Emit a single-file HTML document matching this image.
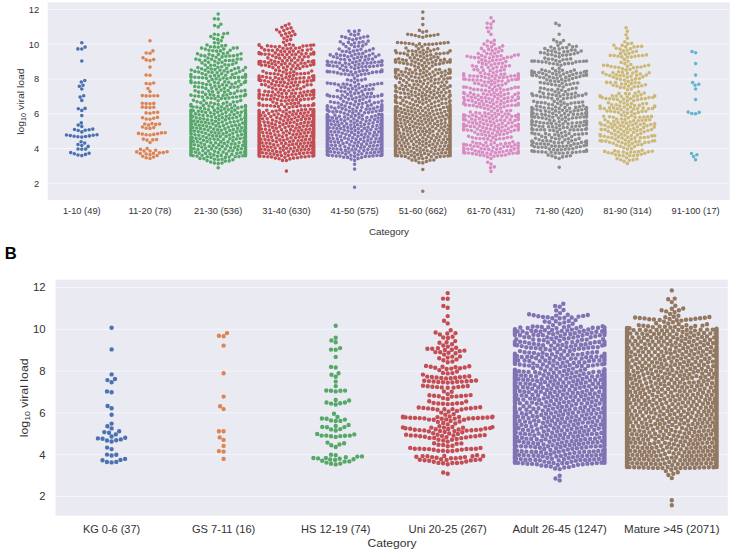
<!DOCTYPE html>
<html><head><meta charset="utf-8"><title>Swarm</title>
<style>html,body{margin:0;padding:0;background:#fff}svg{display:block}text{font-family:"Liberation Sans",sans-serif;fill:#333333}</style></head>
<body><svg width="734" height="555" viewBox="0 0 734 555">
<defs><filter id="sb" x="0" y="0" width="734" height="555" filterUnits="userSpaceOnUse"><feGaussianBlur stdDeviation="0.4"/></filter></defs>
<rect width="734" height="555" fill="#fff"/>
<rect x="47.7" y="2.5" width="682.0" height="197.4" fill="#eaeaf2"/>
<line x1="47.7" x2="729.7" y1="183.40" y2="183.40" stroke="#f5f5fc" stroke-width="1"/>
<line x1="47.7" x2="729.7" y1="148.62" y2="148.62" stroke="#f5f5fc" stroke-width="1"/>
<line x1="47.7" x2="729.7" y1="113.84" y2="113.84" stroke="#f5f5fc" stroke-width="1"/>
<line x1="47.7" x2="729.7" y1="79.06" y2="79.06" stroke="#f5f5fc" stroke-width="1"/>
<line x1="47.7" x2="729.7" y1="44.28" y2="44.28" stroke="#f5f5fc" stroke-width="1"/>
<line x1="47.7" x2="729.7" y1="9.50" y2="9.50" stroke="#f5f5fc" stroke-width="1"/>
<rect x="55.6" y="279.7" width="672.1999999999999" height="236.00000000000006" fill="#eaeaf2"/>
<line x1="55.6" x2="727.8" y1="496.50" y2="496.50" stroke="#f5f5fc" stroke-width="1"/>
<line x1="55.6" x2="727.8" y1="454.70" y2="454.70" stroke="#f5f5fc" stroke-width="1"/>
<line x1="55.6" x2="727.8" y1="412.90" y2="412.90" stroke="#f5f5fc" stroke-width="1"/>
<line x1="55.6" x2="727.8" y1="371.10" y2="371.10" stroke="#f5f5fc" stroke-width="1"/>
<line x1="55.6" x2="727.8" y1="329.30" y2="329.30" stroke="#f5f5fc" stroke-width="1"/>
<line x1="55.6" x2="727.8" y1="287.50" y2="287.50" stroke="#f5f5fc" stroke-width="1"/>
<text x="39.2" y="186.6" font-size="8.9" text-anchor="end" textLength="5.2" lengthAdjust="spacingAndGlyphs">2</text>
<text x="39.2" y="151.8" font-size="8.9" text-anchor="end" textLength="5.2" lengthAdjust="spacingAndGlyphs">4</text>
<text x="39.2" y="117.0" font-size="8.9" text-anchor="end" textLength="5.2" lengthAdjust="spacingAndGlyphs">6</text>
<text x="39.2" y="82.3" font-size="8.9" text-anchor="end" textLength="5.2" lengthAdjust="spacingAndGlyphs">8</text>
<text x="39.2" y="47.5" font-size="8.9" text-anchor="end" textLength="10.4" lengthAdjust="spacingAndGlyphs">10</text>
<text x="39.2" y="12.7" font-size="8.9" text-anchor="end" textLength="10.4" lengthAdjust="spacingAndGlyphs">12</text>
<text x="81.8" y="214.0" font-size="8.9" text-anchor="middle" textLength="37.8" lengthAdjust="spacingAndGlyphs">1-10 (49)</text>
<text x="150.0" y="214.0" font-size="8.9" text-anchor="middle" textLength="43.0" lengthAdjust="spacingAndGlyphs">11-20 (78)</text>
<text x="218.2" y="214.0" font-size="8.9" text-anchor="middle" textLength="48.2" lengthAdjust="spacingAndGlyphs">21-30 (536)</text>
<text x="286.4" y="214.0" font-size="8.9" text-anchor="middle" textLength="48.2" lengthAdjust="spacingAndGlyphs">31-40 (630)</text>
<text x="354.6" y="214.0" font-size="8.9" text-anchor="middle" textLength="48.2" lengthAdjust="spacingAndGlyphs">41-50 (575)</text>
<text x="422.8" y="214.0" font-size="8.9" text-anchor="middle" textLength="48.2" lengthAdjust="spacingAndGlyphs">51-60 (662)</text>
<text x="491.0" y="214.0" font-size="8.9" text-anchor="middle" textLength="48.2" lengthAdjust="spacingAndGlyphs">61-70 (431)</text>
<text x="559.2" y="214.0" font-size="8.9" text-anchor="middle" textLength="48.2" lengthAdjust="spacingAndGlyphs">71-80 (420)</text>
<text x="627.4" y="214.0" font-size="8.9" text-anchor="middle" textLength="48.2" lengthAdjust="spacingAndGlyphs">81-90 (314)</text>
<text x="695.6" y="214.0" font-size="8.9" text-anchor="middle" textLength="48.2" lengthAdjust="spacingAndGlyphs">91-100 (17)</text>
<text x="389.0" y="235.3" font-size="9.0" text-anchor="middle" textLength="40.2" lengthAdjust="spacingAndGlyphs">Category</text>
<text x="45.6" y="500.3" font-size="10.8" text-anchor="end" textLength="6.3" lengthAdjust="spacingAndGlyphs">2</text>
<text x="45.6" y="458.5" font-size="10.8" text-anchor="end" textLength="6.3" lengthAdjust="spacingAndGlyphs">4</text>
<text x="45.6" y="416.7" font-size="10.8" text-anchor="end" textLength="6.3" lengthAdjust="spacingAndGlyphs">6</text>
<text x="45.6" y="374.9" font-size="10.8" text-anchor="end" textLength="6.3" lengthAdjust="spacingAndGlyphs">8</text>
<text x="45.6" y="333.1" font-size="10.8" text-anchor="end" textLength="12.7" lengthAdjust="spacingAndGlyphs">10</text>
<text x="45.6" y="291.3" font-size="10.8" text-anchor="end" textLength="12.7" lengthAdjust="spacingAndGlyphs">12</text>
<text x="111.6" y="532.7" font-size="10.8" text-anchor="middle" textLength="57.2" lengthAdjust="spacingAndGlyphs">KG 0-6 (37)</text>
<text x="223.6" y="532.7" font-size="10.8" text-anchor="middle" textLength="63.4" lengthAdjust="spacingAndGlyphs">GS 7-11 (16)</text>
<text x="335.7" y="532.7" font-size="10.8" text-anchor="middle" textLength="69.5" lengthAdjust="spacingAndGlyphs">HS 12-19 (74)</text>
<text x="447.7" y="532.7" font-size="10.8" text-anchor="middle" textLength="78.3" lengthAdjust="spacingAndGlyphs">Uni 20-25 (267)</text>
<text x="559.7" y="532.7" font-size="10.8" text-anchor="middle" textLength="94.4" lengthAdjust="spacingAndGlyphs">Adult 26-45 (1247)</text>
<text x="671.8" y="532.7" font-size="10.8" text-anchor="middle" textLength="95.5" lengthAdjust="spacingAndGlyphs">Mature &gt;45 (2071)</text>
<text x="392.0" y="546.6" font-size="10.9" text-anchor="middle" textLength="49.0" lengthAdjust="spacingAndGlyphs">Category</text>
<g transform="translate(24,101.6) rotate(-90)"><text x="0" y="0" font-size="9.0" text-anchor="middle" textLength="66.5" lengthAdjust="spacingAndGlyphs">log<tspan font-size="6.30" dy="1.62">10</tspan><tspan dy="-1.62"> viral load</tspan></text></g>
<g transform="translate(27.7,397.8) rotate(-90)"><text x="0" y="0" font-size="10.9" text-anchor="middle" textLength="78.9" lengthAdjust="spacingAndGlyphs">log<tspan font-size="7.63" dy="1.96">10</tspan><tspan dy="-1.96"> viral load</tspan></text></g>
<text x="4.7" y="258.7" font-size="16.6" font-weight="bold" style="fill:#000">B</text>
<g filter="url(#sb)">
<path d="M81.8 155.6h0M78.0 155.0h0M85.5 154.4h0M74.3 153.8h0M89.1 153.2h0M70.7 152.6h0M81.8 149.3h0M85.7 149.1h0M78.0 149.0h0M88.2 146.4h0M81.8 145.5h0M78.0 144.6h0M84.7 143.1h0M81.1 141.8h0M81.8 137.1h0M77.9 136.8h0M85.6 136.5h0M74.1 136.2h0M89.4 135.9h0M70.3 135.6h0M93.2 135.3h0M66.5 135.0h0M97.0 134.7h0M81.8 131.9h0M78.2 130.5h0M85.2 130.2h0M89.1 129.8h0M74.5 129.5h0M92.8 129.1h0M81.8 126.5h0M78.2 125.1h0M81.3 122.9h0M81.8 115.6h0M81.8 110.4h0M78.3 108.8h0M85.1 108.4h0M81.8 100.4h0M80.1 97.1h0M83.7 95.8h0M81.8 89.0h0M79.3 86.2h0M83.0 85.3h0M81.3 82.0h0M84.8 80.5h0M81.8 61.0h0M81.8 49.0h0M77.9 48.9h0M85.1 47.1h0M81.8 42.7h0" stroke="#4c72b0" stroke-width="3.6" stroke-linecap="round" fill="none"/>
<path d="M150.0 158.5h0M146.2 157.8h0M153.5 157.0h0M142.7 156.3h0M157.1 155.5h0M150.0 154.8h0M146.2 154.0h0M140.2 153.5h0M153.5 153.3h0M159.5 152.7h0M163.3 152.6h0M136.7 151.9h0M167.1 151.8h0M150.0 151.1h0M144.0 151.1h0M155.7 150.2h0M140.5 149.4h0M147.1 148.6h0M150.0 142.5h0M147.0 140.1h0M152.8 139.9h0M156.6 139.6h0M143.3 139.1h0M150.0 135.0h0M146.1 134.8h0M153.8 134.4h0M142.3 134.1h0M157.6 133.8h0M138.5 133.4h0M161.4 132.9h0M165.2 132.7h0M150.0 128.4h0M146.1 128.2h0M153.8 127.6h0M142.5 127.0h0M148.5 125.0h0M155.8 124.4h0M144.8 124.0h0M159.6 124.0h0M152.0 123.6h0M150.0 119.3h0M146.2 119.0h0M153.7 118.2h0M142.5 117.8h0M157.5 117.4h0M150.0 113.2h0M146.1 112.9h0M153.8 112.5h0M157.7 112.3h0M150.0 107.6h0M146.1 107.4h0M153.8 107.2h0M142.3 107.1h0M150.0 103.8h0M146.1 103.6h0M153.8 103.4h0M142.3 103.2h0M150.0 96.0h0M146.1 95.9h0M153.9 95.8h0M157.7 95.8h0M142.3 95.6h0M150.0 91.6h0M148.0 88.5h0M150.0 83.9h0M146.2 83.5h0M153.7 83.0h0M150.0 75.2h0M146.1 75.0h0M150.0 67.1h0M150.0 60.6h0M146.2 59.9h0M153.7 59.6h0M143.0 57.8h0M150.0 53.3h0M146.2 53.0h0M152.9 50.9h0M150.0 40.8h0" stroke="#dd8452" stroke-width="3.6" stroke-linecap="round" fill="none"/>
<path d="M218.2 167.7h0M218.2 163.6h0M214.4 163.1h0M222.0 163.0h0M210.7 162.0h0M225.3 161.1h0M229.2 160.9h0M207.1 160.6h0M218.2 159.8h0M232.9 159.7h0M214.4 159.3h0M222.0 159.2h0M203.9 158.6h0M200.0 158.4h0M211.0 157.5h0M225.3 157.4h0M229.2 157.1h0M207.3 156.8h0M235.2 156.7h0M239.0 156.6h0M217.4 156.2h0M197.0 156.1h0M242.8 155.8h0M193.1 155.7h0M245.5 155.7h0M221.2 155.4h0M202.1 155.3h0M190.9 155.3h0M213.8 154.9h0M245.5 154.8h0M190.9 154.8h0M231.9 154.4h0M245.5 154.3h0M190.9 154.2h0M210.1 153.9h0M226.5 153.9h0M245.5 153.8h0M205.6 153.4h0M236.8 153.4h0M190.9 153.4h0M199.1 153.1h0M245.5 153.0h0M190.9 152.9h0M240.5 152.8h0M218.2 152.6h0M195.4 152.3h0M223.1 152.1h0M244.3 152.1h0M191.5 151.8h0M245.5 151.7h0M190.9 151.6h0M214.6 151.2h0M229.0 151.0h0M232.8 150.8h0M202.9 150.8h0M208.2 150.7h0M245.5 150.7h0M190.9 150.3h0M190.9 150.0h0M237.7 149.8h0M245.5 149.6h0M197.9 149.6h0M219.8 149.2h0M225.2 149.0h0M211.6 148.9h0M241.4 148.8h0M194.1 148.7h0M245.3 148.4h0M190.9 148.3h0M245.5 148.1h0M190.9 148.1h0M205.5 148.1h0M216.2 147.7h0M230.6 147.7h0M234.7 147.6h0M201.8 147.1h0M190.9 147.0h0M245.5 147.0h0M245.5 146.7h0M222.2 146.4h0M209.1 146.2h0M238.2 146.2h0M227.1 145.9h0M198.3 145.7h0M213.2 145.6h0M190.9 145.5h0M242.6 145.3h0M218.7 144.9h0M194.5 144.8h0M245.5 144.7h0M190.9 144.6h0M204.6 144.5h0M231.3 144.1h0M245.5 144.0h0M235.1 143.9h0M190.9 143.5h0M245.5 143.5h0M224.3 143.3h0M201.0 143.1h0M215.6 142.7h0M210.8 142.7h0M239.1 142.6h0M245.5 142.6h0M190.9 142.4h0M220.9 141.9h0M227.9 141.9h0M197.4 141.8h0M243.7 141.8h0M207.1 141.5h0M193.4 141.3h0M245.5 141.2h0M233.0 140.8h0M190.9 140.6h0M245.5 140.4h0M203.5 140.2h0M190.9 139.9h0M245.5 139.9h0M218.0 139.5h0M214.1 139.3h0M223.5 139.2h0M210.0 139.1h0M236.4 139.0h0M200.0 138.8h0M229.8 138.7h0M240.2 138.5h0M196.1 138.4h0M244.0 138.0h0M206.5 137.8h0M192.3 137.8h0M245.5 137.4h0M190.9 137.4h0M190.9 137.2h0M233.1 137.0h0M220.3 136.6h0M226.1 136.4h0M203.0 136.3h0M245.5 136.3h0M216.6 136.0h0M212.7 135.9h0M245.5 135.7h0M237.8 135.6h0M198.9 135.2h0M209.0 135.0h0M229.5 135.0h0M195.0 134.8h0M241.6 134.6h0M245.2 134.5h0M191.3 134.1h0M190.9 134.1h0M223.0 133.9h0M190.9 133.7h0M205.6 133.3h0M232.8 133.2h0M218.9 133.1h0M245.5 133.1h0M215.0 132.7h0M226.5 132.4h0M201.9 132.2h0M245.5 132.2h0M211.3 132.1h0M236.5 131.9h0M198.2 131.6h0M245.5 131.4h0M190.9 131.4h0M240.2 131.1h0M194.4 131.1h0M244.1 130.9h0M229.9 130.6h0M190.9 130.5h0M221.3 130.3h0M208.1 130.1h0M190.9 130.1h0M217.5 129.7h0M233.4 129.5h0M204.3 129.3h0M245.5 129.3h0M213.7 129.1h0M224.9 128.9h0M200.5 128.6h0M245.5 128.5h0M237.6 128.3h0M190.9 128.3h0M196.7 128.0h0M241.7 127.7h0M192.9 127.5h0M245.5 127.5h0M210.4 127.2h0M228.3 127.2h0M219.7 126.7h0M190.9 126.7h0M206.7 126.3h0M245.3 126.2h0M216.0 125.9h0M231.9 125.9h0M223.4 125.6h0M202.9 125.5h0M235.5 125.2h0M199.2 125.2h0M239.3 124.9h0M245.5 124.9h0M190.9 124.8h0M195.4 124.4h0M245.5 124.4h0M245.5 124.2h0M212.8 123.9h0M191.6 123.9h0M226.7 123.7h0M190.9 123.6h0M218.6 123.2h0M209.0 123.2h0M242.6 123.0h0M190.9 122.7h0M245.5 122.7h0M205.3 122.6h0M230.2 122.2h0M222.2 122.0h0M201.5 122.0h0M234.1 121.7h0M197.8 121.6h0M245.5 121.5h0M215.5 121.2h0M237.9 121.1h0M194.0 121.0h0M245.5 120.8h0M190.9 120.7h0M245.5 120.5h0M211.8 120.3h0M225.4 119.9h0M190.9 119.9h0M207.6 119.7h0M218.8 119.5h0M241.3 119.3h0M203.8 119.0h0M245.5 118.9h0M229.1 118.6h0M200.0 118.6h0M190.9 118.5h0M245.5 118.3h0M232.8 118.0h0M196.2 117.9h0M222.3 117.8h0M244.8 117.8h0M215.6 117.5h0M236.6 117.3h0M245.5 117.1h0M190.9 117.0h0M211.3 116.6h0M192.6 116.6h0M226.2 116.3h0M190.9 116.3h0M245.5 116.3h0M219.0 115.8h0M207.6 115.7h0M240.1 115.6h0M203.0 115.4h0M190.9 115.3h0M245.5 115.3h0M229.8 115.0h0M199.1 114.8h0M190.9 114.6h0M234.1 114.5h0M245.5 114.3h0M214.2 114.1h0M222.3 114.0h0M195.4 113.9h0M190.9 113.5h0M245.5 113.3h0M245.5 113.2h0M210.6 112.8h0M237.5 112.8h0M225.9 112.5h0M205.7 112.5h0M217.7 112.3h0M241.3 112.1h0M231.6 111.7h0M202.0 111.5h0M190.9 111.4h0M245.5 111.3h0M198.3 111.2h0M190.9 111.1h0M193.3 110.8h0M244.9 110.8h0M221.0 110.5h0M214.4 110.4h0M190.9 110.2h0M234.9 110.1h0M208.5 109.7h0M228.3 109.7h0M245.5 109.7h0M224.5 108.9h0M204.7 108.8h0M217.9 108.4h0M200.5 108.1h0M231.7 108.0h0M237.9 107.9h0M212.7 107.1h0M196.8 107.1h0M241.7 107.1h0M193.0 107.0h0M221.4 106.8h0M245.5 106.7h0M227.0 106.1h0M209.0 106.0h0M190.9 106.0h0M234.7 105.8h0M245.5 105.6h0M203.3 105.4h0M218.2 104.6h0M190.9 104.6h0M230.4 104.5h0M214.5 103.7h0M223.3 103.6h0M206.5 103.2h0M210.8 102.8h0M200.7 102.7h0M226.9 102.3h0M233.3 102.0h0M237.2 101.8h0M197.0 101.7h0M218.2 100.8h0M203.9 100.5h0M240.7 100.4h0M193.4 100.3h0M215.0 98.6h0M221.3 98.6h0M225.2 98.5h0M211.2 98.2h0M229.0 98.1h0M207.4 97.7h0M232.8 97.2h0M202.5 97.1h0M236.6 97.0h0M218.2 96.4h0M198.7 96.2h0M240.4 96.2h0M194.9 96.0h0M244.2 95.8h0M223.1 95.4h0M191.1 95.3h0M213.8 95.2h0M245.5 95.1h0M226.9 95.0h0M190.9 95.0h0M210.1 94.6h0M205.6 94.4h0M245.5 94.3h0M230.4 93.4h0M234.3 93.3h0M218.2 92.6h0M202.5 92.3h0M198.6 92.1h0M224.6 92.0h0M212.6 91.7h0M208.8 91.1h0M237.3 91.1h0M241.2 91.0h0M195.1 90.7h0M228.1 90.5h0M245.0 90.4h0M221.1 90.1h0M216.5 89.2h0M205.9 88.6h0M224.4 88.2h0M211.7 88.1h0M230.3 87.5h0M202.4 87.2h0M234.1 87.2h0M198.5 87.0h0M238.0 86.9h0M219.2 86.6h0M194.7 86.5h0M214.9 86.0h0M226.6 85.2h0M222.5 84.7h0M210.3 84.7h0M206.4 84.6h0M241.0 84.6h0M231.9 84.2h0M202.7 83.5h0M218.2 83.0h0M235.6 82.9h0M198.9 82.8h0M195.1 82.8h0M244.3 82.6h0M191.2 82.6h0M214.4 82.3h0M228.8 82.2h0M245.5 82.1h0M190.9 81.9h0M224.7 81.7h0M245.5 81.6h0M190.9 81.6h0M208.7 81.3h0M238.9 81.1h0M245.5 81.1h0M190.9 80.9h0M219.9 79.7h0M212.1 79.4h0M216.1 78.8h0M227.0 78.7h0M206.4 78.3h0M223.2 78.0h0M230.8 77.8h0M202.6 77.7h0M234.6 77.6h0M198.8 77.5h0M238.5 77.4h0M194.9 77.3h0M242.4 77.3h0M191.1 77.3h0M245.5 77.2h0M190.9 76.8h0M210.3 76.2h0M218.7 76.1h0M245.5 75.9h0M214.6 75.5h0M225.7 75.2h0M190.9 75.0h0M245.5 74.9h0M205.8 74.7h0M190.9 74.6h0M245.5 74.6h0M232.4 74.5h0M221.7 73.7h0M202.2 73.5h0M236.0 73.3h0M217.1 72.7h0M212.2 72.5h0M227.8 72.1h0M208.5 72.0h0M198.7 72.0h0M239.5 71.7h0M194.9 71.4h0M224.1 70.9h0M231.3 70.5h0M220.0 70.3h0M205.1 70.2h0M243.0 70.2h0M191.3 70.0h0M215.0 69.6h0M211.3 69.0h0M234.7 68.8h0M201.6 68.7h0M226.7 68.2h0M238.4 67.9h0M207.8 67.7h0M197.9 67.6h0M245.5 67.6h0M217.9 67.2h0M221.7 66.7h0M214.6 65.3h0M210.8 65.2h0M228.8 65.1h0M205.2 65.0h0M225.0 64.8h0M232.6 64.3h0M218.2 63.0h0M202.0 62.9h0M236.1 62.7h0M222.0 62.3h0M208.5 62.2h0M214.8 61.2h0M225.4 60.5h0M229.3 60.5h0M205.1 60.5h0M233.0 60.4h0M199.6 60.0h0M219.3 59.5h0M211.6 59.2h0M237.2 59.1h0M195.9 59.1h0M241.0 59.0h0M208.0 58.0h0M216.1 57.3h0M222.1 56.9h0M225.9 56.2h0M229.8 56.0h0M204.8 55.9h0M233.6 55.8h0M212.7 55.6h0M201.0 55.4h0M237.4 55.1h0M218.4 54.4h0M209.1 54.3h0M197.5 53.8h0M241.0 53.8h0M223.3 53.5h0M227.5 52.9h0M216.6 51.1h0M220.5 50.9h0M212.8 50.8h0M208.9 50.2h0M230.2 50.2h0M223.8 49.1h0M205.3 49.1h0M233.4 48.1h0M201.5 48.1h0M237.2 47.9h0M218.2 47.3h0M214.4 46.9h0M210.5 46.7h0M221.8 45.9h0M225.6 45.5h0M207.0 45.0h0M218.2 43.1h0M214.4 42.7h0M221.2 40.8h0M217.7 39.4h0M214.0 38.5h0M222.5 37.3h0M210.8 36.5h0M218.2 34.7h0M214.4 34.2h0M223.8 33.8h0M227.6 33.3h0M218.2 26.9h0M214.6 25.5h0M220.9 24.3h0M218.2 19.1h0M214.4 18.7h0M218.2 14.0h0" stroke="#55a868" stroke-width="3.6" stroke-linecap="round" fill="none"/>
<path d="M286.4 171.1h0M286.4 160.5h0M282.5 160.4h0M289.9 158.9h0M279.1 158.7h0M293.6 158.1h0M275.3 158.1h0M297.5 157.8h0M284.9 157.2h0M271.6 157.0h0M301.2 156.9h0M267.8 156.7h0M305.1 156.7h0M263.9 156.5h0M308.9 156.3h0M260.0 156.2h0M312.8 156.1h0M259.1 156.0h0M313.7 155.8h0M281.4 155.6h0M259.1 155.6h0M288.3 155.5h0M313.7 155.3h0M277.6 155.1h0M313.7 155.1h0M259.1 154.9h0M292.1 154.6h0M259.1 154.5h0M295.9 154.3h0M274.0 154.1h0M313.7 153.9h0M270.1 153.7h0M259.1 153.6h0M285.1 153.4h0M299.6 153.4h0M303.5 153.2h0M266.2 153.2h0M307.3 152.8h0M262.4 152.8h0M311.1 152.8h0M259.1 152.6h0M313.7 152.5h0M280.3 152.1h0M313.7 152.0h0M288.5 151.7h0M313.7 151.6h0M276.6 151.5h0M259.1 151.4h0M293.4 151.2h0M313.7 151.1h0M259.1 151.0h0M272.5 150.7h0M313.7 150.7h0M297.2 150.4h0M259.1 150.3h0M268.6 150.3h0M313.7 150.2h0M283.4 150.1h0M301.1 149.9h0M304.9 149.6h0M264.9 149.6h0M308.8 149.4h0M261.1 149.3h0M312.5 149.3h0M259.1 149.1h0M313.7 148.8h0M290.6 148.7h0M259.1 148.6h0M313.7 148.6h0M286.7 148.3h0M280.1 148.3h0M259.1 148.1h0M275.1 148.1h0M313.7 147.9h0M294.4 147.7h0M313.7 147.6h0M271.0 147.3h0M259.1 147.3h0M313.7 147.1h0M298.6 146.9h0M267.4 146.8h0M259.1 146.8h0M302.8 146.6h0M283.5 146.4h0M306.6 146.3h0M313.7 146.3h0M263.6 146.1h0M310.5 145.9h0M259.8 145.7h0M313.7 145.7h0M259.1 145.6h0M289.0 145.3h0M277.9 145.2h0M313.7 145.1h0M259.1 145.0h0M313.7 144.7h0M273.7 144.7h0M259.1 144.6h0M292.6 144.4h0M259.1 144.2h0M296.3 143.9h0M313.7 143.9h0M300.4 143.7h0M270.0 143.6h0M285.7 143.4h0M281.4 143.2h0M304.2 143.1h0M266.2 143.1h0M308.1 142.9h0M262.1 142.7h0M259.1 142.7h0M311.7 142.4h0M259.1 142.2h0M313.7 142.1h0M276.4 141.8h0M289.7 141.7h0M313.7 141.6h0M259.1 141.5h0M259.1 141.1h0M313.7 141.1h0M293.3 140.8h0M298.1 140.7h0M272.8 140.6h0M259.1 140.5h0M283.7 140.2h0M301.8 140.2h0M268.8 140.0h0M259.1 140.0h0M279.9 139.9h0M305.6 139.6h0M265.0 139.5h0M309.5 139.3h0M261.0 139.2h0M313.3 139.1h0M259.1 138.9h0M287.2 138.9h0M259.1 138.7h0M313.7 138.6h0M276.6 138.0h0M290.9 137.8h0M295.4 137.7h0M259.1 137.7h0M313.7 137.7h0M299.2 137.1h0M271.6 137.1h0M313.7 137.0h0M259.1 136.9h0M282.4 136.8h0M302.9 136.7h0M267.8 136.4h0M313.7 136.4h0M259.1 136.4h0M306.6 136.0h0M263.7 136.0h0M311.2 136.0h0M259.4 135.8h0M313.7 135.6h0M259.1 135.5h0M286.4 135.2h0M279.1 135.2h0M313.7 135.1h0M259.1 134.9h0M293.0 134.7h0M274.9 134.7h0M259.1 134.4h0M313.7 134.4h0M296.7 134.2h0M313.7 134.2h0M259.1 133.9h0M300.6 133.7h0M259.1 133.7h0M270.5 133.5h0M313.7 133.3h0M289.5 133.1h0M283.3 133.0h0M304.4 132.9h0M266.8 132.8h0M308.2 132.5h0M262.7 132.5h0M312.1 132.4h0M259.1 132.3h0M313.7 132.2h0M277.9 131.7h0M259.1 131.5h0M313.7 131.5h0M294.0 131.1h0M273.9 131.1h0M286.4 131.0h0M298.3 130.9h0M313.7 130.8h0M259.1 130.6h0M313.7 130.5h0M301.9 130.1h0M313.7 130.1h0M269.5 130.0h0M281.6 129.7h0M259.1 129.6h0M290.6 129.6h0M306.0 129.5h0M265.4 129.3h0M309.8 129.2h0M261.4 129.0h0M313.6 128.9h0M259.1 128.8h0M259.1 128.6h0M313.7 128.5h0M276.3 128.3h0M259.1 128.1h0M295.9 128.0h0M313.7 127.8h0M285.1 127.5h0M272.6 127.4h0M259.1 127.2h0M299.5 127.2h0M313.7 127.1h0M279.7 126.6h0M288.8 126.3h0M292.5 126.3h0M303.3 126.2h0M269.0 126.1h0M307.1 125.9h0M265.1 125.6h0M311.0 125.5h0M260.4 125.4h0M313.7 125.2h0M259.1 125.2h0M275.3 124.8h0M259.1 124.6h0M282.9 124.5h0M297.0 124.5h0M313.7 124.2h0M259.1 123.9h0M271.8 123.6h0M300.7 123.5h0M259.1 123.4h0M286.4 123.3h0M259.1 123.2h0M313.7 123.1h0M290.2 122.8h0M279.6 122.7h0M304.4 122.6h0M268.1 122.4h0M308.3 122.4h0M294.0 122.2h0M264.1 122.1h0M312.1 121.9h0M259.8 121.8h0M313.7 121.8h0M259.1 121.5h0M313.7 121.2h0M276.1 121.2h0M283.6 120.8h0M297.4 120.6h0M259.1 120.5h0M313.7 120.2h0M259.1 120.2h0M272.5 120.0h0M287.9 119.9h0M301.2 119.6h0M259.1 119.6h0M313.7 119.5h0M291.6 119.3h0M305.6 119.1h0M280.3 118.9h0M267.2 118.8h0M309.4 118.7h0M262.6 118.7h0M313.5 118.5h0M259.1 118.4h0M313.7 118.2h0M259.1 118.1h0M295.0 117.7h0M259.1 117.7h0M313.7 117.7h0M276.7 117.5h0M285.1 117.3h0M259.1 117.2h0M313.7 117.1h0M298.7 116.7h0M270.8 116.6h0M259.1 116.5h0M289.0 116.4h0M303.0 116.4h0M313.7 116.1h0M259.1 116.1h0M307.1 115.8h0M265.1 115.7h0M281.8 115.5h0M311.0 115.4h0M261.0 115.3h0M313.7 115.2h0M259.1 115.0h0M292.6 114.8h0M274.1 114.8h0M313.7 114.7h0M259.1 114.6h0M278.2 114.0h0M296.2 113.9h0M313.7 113.9h0M286.3 113.9h0M300.6 113.5h0M268.7 113.5h0M259.1 113.3h0M313.7 113.3h0M259.1 113.2h0M304.4 113.0h0M313.7 112.8h0M263.4 112.5h0M289.8 112.3h0M308.2 112.2h0M312.8 112.1h0M259.3 112.1h0M259.1 112.0h0M283.1 111.8h0M313.7 111.8h0M272.3 111.5h0M259.1 111.3h0M293.5 111.3h0M276.1 111.0h0M313.7 111.0h0M259.1 111.0h0M298.0 110.7h0M313.7 110.6h0M259.1 110.5h0M266.8 110.3h0M286.4 110.0h0M279.8 109.9h0M301.7 109.9h0M313.7 109.5h0M305.6 109.5h0M310.4 109.2h0M289.3 107.5h0M284.6 106.7h0M293.0 106.7h0M278.4 106.5h0M296.9 106.5h0M274.5 106.3h0M300.7 105.8h0M270.7 105.8h0M304.6 105.7h0M266.8 105.5h0M308.4 105.5h0M263.0 105.4h0M312.3 105.3h0M259.1 105.1h0M313.7 105.0h0M313.7 104.7h0M259.1 104.7h0M281.6 104.5h0M287.2 104.0h0M313.7 103.8h0M291.0 103.6h0M294.7 103.4h0M259.1 103.4h0M276.7 103.2h0M298.4 102.9h0M273.0 102.0h0M285.1 101.0h0M281.2 100.7h0M288.9 100.3h0M292.7 100.1h0M300.6 99.9h0M277.5 99.5h0M296.5 99.4h0M270.4 99.4h0M304.4 99.2h0M266.5 99.2h0M308.3 99.1h0M262.6 99.1h0M312.1 98.8h0M274.1 98.3h0M259.1 98.1h0M313.7 97.8h0M286.4 97.4h0M282.5 97.1h0M290.1 96.8h0M293.9 96.5h0M298.7 96.4h0M259.1 96.2h0M278.9 96.0h0M302.5 95.9h0M271.3 95.7h0M267.5 95.3h0M306.3 95.1h0M263.6 95.0h0M310.2 94.9h0M275.2 94.8h0M313.7 94.7h0M259.8 94.5h0M259.1 94.3h0M286.4 93.6h0M281.9 93.5h0M291.7 93.5h0M295.5 93.2h0M300.2 93.0h0M313.7 92.9h0M278.2 92.3h0M272.6 92.1h0M304.0 92.1h0M268.7 91.7h0M307.8 91.4h0M264.9 91.3h0M311.6 91.3h0M259.1 91.2h0M313.7 91.1h0M288.9 90.8h0M284.3 90.6h0M259.1 90.3h0M313.7 90.3h0M259.1 90.2h0M293.1 90.0h0M280.6 89.4h0M276.0 89.3h0M296.8 88.8h0M300.6 88.7h0M272.4 88.0h0M286.4 87.1h0M290.3 87.0h0M303.9 86.8h0M268.8 86.7h0M282.8 85.8h0M293.8 85.6h0M278.9 85.6h0M275.1 85.3h0M297.7 85.2h0M307.2 84.9h0M265.4 84.9h0M311.1 84.8h0M261.6 84.5h0M271.6 83.9h0M287.9 83.7h0M291.6 82.7h0M284.3 82.4h0M280.5 82.2h0M295.4 82.1h0M299.7 82.1h0M276.6 81.9h0M303.6 81.9h0M268.4 81.8h0M307.3 81.1h0M264.7 80.7h0M311.2 80.7h0M273.1 80.5h0M260.8 80.4h0M288.8 80.1h0M313.7 80.1h0M259.1 80.1h0M313.7 79.5h0M259.1 79.4h0M282.6 79.1h0M292.5 79.0h0M278.8 78.7h0M296.2 78.5h0M300.0 78.1h0M270.2 78.0h0M303.9 77.9h0M259.1 77.9h0M313.7 77.8h0M308.9 77.7h0M313.7 77.6h0M286.0 77.6h0M275.3 77.5h0M266.4 77.2h0M262.6 76.6h0M289.7 76.4h0M312.5 76.3h0M259.1 76.1h0M313.7 75.9h0M281.6 75.5h0M293.4 75.4h0M278.0 74.2h0M286.5 73.9h0M296.9 73.9h0M274.2 73.8h0M300.8 73.8h0M270.3 73.6h0M304.6 73.5h0M266.5 73.0h0M308.4 73.0h0M290.1 72.7h0M283.2 72.0h0M293.8 71.7h0M263.0 71.3h0M311.7 71.0h0M279.5 70.8h0M286.4 70.1h0M275.7 70.1h0M291.1 69.1h0M296.0 68.6h0M299.8 68.5h0M283.5 67.7h0M272.8 67.6h0M278.6 67.2h0M287.4 66.5h0M303.1 66.5h0M269.2 66.4h0M306.9 66.3h0M293.0 65.9h0M297.8 65.4h0M265.5 65.3h0M310.6 65.1h0M261.6 65.1h0M275.6 64.8h0M281.4 64.6h0M313.7 64.5h0M259.1 64.0h0M272.0 63.8h0M313.7 63.8h0M289.9 63.7h0M285.1 63.6h0M313.7 63.6h0M301.0 63.3h0M304.9 63.2h0M259.1 63.1h0M313.7 62.9h0M295.0 62.8h0M268.3 62.7h0M278.4 62.3h0M264.6 61.7h0M308.3 61.6h0M312.1 61.5h0M260.8 61.5h0M259.1 61.5h0M274.7 61.2h0M282.4 60.9h0M313.7 60.9h0M287.2 60.5h0M291.6 60.4h0M297.9 60.3h0M271.0 60.2h0M302.3 59.9h0M279.7 58.3h0M294.5 58.0h0M267.9 57.9h0M284.8 57.6h0M289.3 57.5h0M276.0 57.4h0M299.5 57.0h0M304.3 56.7h0M308.2 56.7h0M272.6 55.7h0M282.4 54.8h0M292.0 54.8h0M278.7 54.7h0M286.9 54.5h0M295.8 54.4h0M269.0 54.2h0M265.1 54.2h0M310.9 54.1h0M301.7 54.0h0M261.3 53.9h0M313.7 53.9h0M259.1 53.6h0M306.1 53.5h0M313.7 53.3h0M275.3 52.9h0M259.1 52.6h0M313.7 52.5h0M313.7 52.2h0M289.5 51.9h0M298.6 51.9h0M284.7 51.5h0M280.8 51.4h0M293.3 51.1h0M272.3 50.5h0M302.3 50.3h0M268.5 50.3h0M307.4 50.0h0M264.6 49.9h0M277.4 49.8h0M311.1 49.1h0M287.2 48.7h0M283.0 48.3h0M290.8 48.2h0M295.7 48.2h0M299.5 47.7h0M261.6 47.6h0M275.1 46.8h0M279.5 46.6h0M271.2 46.3h0M303.0 46.1h0M267.4 45.7h0M306.8 45.7h0M285.7 45.3h0M293.2 45.3h0M310.7 45.3h0M259.1 45.3h0M313.7 45.0h0M259.1 44.9h0M289.4 44.2h0M283.5 42.3h0M286.9 40.6h0M290.6 39.6h0M284.0 38.2h0M287.6 36.8h0M291.3 35.8h0M281.5 35.3h0M294.9 34.4h0M285.6 33.7h0M289.3 32.7h0M279.6 32.1h0M292.9 31.3h0M283.8 30.5h0M276.6 29.8h0M287.2 28.8h0M291.0 27.9h0M281.9 27.2h0M285.4 25.5h0M289.0 24.1h0" stroke="#c44e52" stroke-width="3.6" stroke-linecap="round" fill="none"/>
<path d="M354.6 187.2h0M354.6 169.1h0M354.6 164.3h0M354.6 160.4h0M351.0 159.1h0M358.0 158.6h0M361.6 157.5h0M347.6 157.4h0M343.7 157.3h0M354.6 156.4h0M365.3 156.4h0M369.2 156.3h0M340.0 156.1h0M336.2 156.0h0M373.0 155.9h0M332.3 155.6h0M376.9 155.5h0M380.7 155.5h0M350.9 155.3h0M328.5 155.2h0M381.9 155.2h0M358.1 154.8h0M327.3 154.7h0M381.9 154.6h0M327.3 154.2h0M345.8 154.1h0M381.9 154.0h0M361.8 153.7h0M327.3 153.7h0M381.9 153.6h0M366.8 153.0h0M342.2 152.8h0M354.6 152.7h0M370.7 152.7h0M338.3 152.7h0M374.5 152.4h0M334.5 152.3h0M348.9 152.1h0M378.4 152.0h0M330.6 151.7h0M381.9 151.7h0M327.3 151.6h0M359.0 151.3h0M381.9 151.0h0M327.3 150.9h0M363.8 150.6h0M327.3 150.6h0M345.5 150.4h0M381.9 150.3h0M352.1 149.9h0M381.9 149.9h0M327.3 149.7h0M367.8 149.4h0M340.9 149.4h0M372.2 149.3h0M355.7 149.2h0M337.0 149.0h0M376.1 149.0h0M333.2 148.7h0M380.1 148.7h0M381.9 148.6h0M348.6 148.3h0M329.4 148.2h0M327.3 148.2h0M360.7 147.9h0M381.9 147.8h0M327.3 147.7h0M381.9 147.5h0M364.3 147.0h0M344.9 146.8h0M327.3 146.7h0M353.3 146.3h0M369.7 146.2h0M381.9 146.2h0M357.4 145.9h0M340.1 145.8h0M373.5 145.7h0M335.5 145.6h0M377.3 145.5h0M331.7 145.3h0M327.3 145.3h0M381.9 145.2h0M381.1 144.9h0M349.8 144.7h0M327.9 144.7h0M327.3 144.7h0M381.9 144.5h0M361.6 144.4h0M366.7 144.1h0M327.3 143.9h0M381.9 143.9h0M381.9 143.6h0M343.1 143.5h0M327.3 143.5h0M381.9 143.2h0M327.3 143.1h0M354.8 143.0h0M370.8 142.7h0M346.8 142.5h0M338.5 142.4h0M358.4 142.2h0M374.6 142.1h0M334.7 142.0h0M378.5 141.8h0M330.8 141.6h0M381.9 141.6h0M363.9 141.4h0M351.4 141.3h0M327.3 141.1h0M381.9 140.9h0M327.3 140.7h0M367.7 140.5h0M381.9 140.3h0M341.6 140.2h0M381.9 140.1h0M327.3 139.9h0M381.9 139.7h0M327.3 139.5h0M356.0 139.4h0M360.6 139.2h0M348.3 139.1h0M371.2 139.0h0M337.3 138.9h0M376.0 138.7h0M381.9 138.7h0M333.1 138.6h0M379.9 138.4h0M329.3 138.1h0M381.9 138.1h0M344.7 137.9h0M352.6 137.7h0M364.1 137.6h0M327.3 137.4h0M381.9 137.1h0M327.3 137.0h0M368.0 136.9h0M381.9 136.7h0M340.6 136.6h0M327.3 136.5h0M358.0 136.3h0M373.3 135.9h0M381.9 135.9h0M327.3 135.7h0M349.5 135.5h0M336.7 135.3h0M376.9 135.1h0M332.1 135.0h0M381.4 135.0h0M361.5 134.8h0M381.9 134.7h0M354.6 134.6h0M328.3 134.5h0M345.9 134.2h0M365.2 134.1h0M381.9 134.0h0M327.3 133.9h0M369.8 133.6h0M327.3 133.6h0M381.9 133.4h0M342.3 133.3h0M327.3 133.1h0M381.9 133.0h0M358.3 132.6h0M327.3 132.5h0M351.6 132.4h0M374.4 132.4h0M338.7 131.9h0M334.8 131.9h0M378.7 131.8h0M330.9 131.6h0M381.9 131.5h0M348.0 131.1h0M361.8 130.9h0M367.1 130.9h0M327.3 130.9h0M355.0 130.6h0M327.3 130.4h0M381.9 130.3h0M344.3 130.1h0M370.8 129.8h0M327.3 129.8h0M381.9 129.6h0M327.3 129.6h0M327.3 129.1h0M376.1 129.0h0M381.9 129.0h0M351.4 128.7h0M358.3 128.7h0M340.7 128.6h0M336.9 128.6h0M364.4 128.2h0M333.1 128.0h0M379.8 128.0h0M381.9 128.0h0M329.3 127.8h0M381.9 127.6h0M347.8 127.4h0M368.0 127.3h0M327.3 127.2h0M381.9 127.0h0M354.6 126.9h0M372.6 126.6h0M344.0 126.4h0M381.9 126.4h0M361.1 126.3h0M327.3 126.0h0M381.9 125.9h0M327.3 125.6h0M376.9 125.5h0M338.9 125.4h0M350.8 125.1h0M335.1 124.9h0M381.9 124.8h0M357.6 124.7h0M364.5 124.5h0M331.3 124.3h0M380.6 124.3h0M327.6 124.2h0M346.7 123.8h0M368.9 123.7h0M381.9 123.7h0M327.3 123.5h0M341.9 123.3h0M354.2 123.1h0M373.1 122.9h0M327.3 122.7h0M381.9 122.7h0M360.8 122.6h0M327.3 122.0h0M337.7 121.9h0M377.6 121.8h0M327.3 121.7h0M381.9 121.7h0M350.8 121.3h0M333.9 121.3h0M381.9 121.2h0M366.0 121.1h0M357.2 120.9h0M330.1 120.8h0M344.7 120.7h0M381.1 120.5h0M381.9 120.4h0M369.9 120.2h0M381.9 120.0h0M327.3 119.9h0M341.0 119.6h0M374.6 119.5h0M327.3 119.5h0M362.4 119.2h0M353.9 119.0h0M327.3 118.9h0M348.0 118.8h0M381.9 118.8h0M336.5 118.4h0M327.3 118.3h0M378.1 118.1h0M381.9 118.0h0M332.3 117.9h0M327.3 117.7h0M381.9 117.7h0M359.0 117.6h0M366.9 117.5h0M344.6 117.0h0M371.6 116.9h0M328.8 116.9h0M381.9 116.9h0M327.3 116.8h0M351.2 116.4h0M381.9 116.2h0M339.4 116.2h0M327.3 116.0h0M375.2 115.8h0M355.4 115.6h0M362.2 115.6h0M381.9 115.5h0M327.3 115.4h0M381.9 115.2h0M334.9 115.1h0M347.8 114.6h0M327.3 114.6h0M378.8 114.4h0M381.9 114.4h0M358.8 113.9h0M344.2 113.2h0M352.8 112.9h0M364.6 112.7h0M368.5 112.6h0M340.5 112.1h0M372.3 112.0h0M332.9 111.9h0M336.7 111.4h0M376.1 111.3h0M329.1 111.3h0M349.4 111.3h0M356.1 111.1h0M360.7 110.7h0M379.9 110.5h0M381.9 110.2h0M327.3 110.1h0M345.9 109.7h0M366.2 109.3h0M352.8 109.2h0M369.9 109.1h0M381.9 109.1h0M327.3 109.1h0M342.2 108.6h0M373.7 108.4h0M334.8 108.2h0M357.1 107.5h0M349.5 107.3h0M361.9 107.2h0M338.7 107.1h0M377.3 107.1h0M331.2 107.1h0M381.2 107.0h0M381.9 107.0h0M327.3 106.5h0M381.9 106.3h0M345.1 106.1h0M367.6 105.9h0M327.3 105.7h0M354.2 105.0h0M371.3 104.9h0M381.9 104.9h0M341.5 104.7h0M358.6 104.2h0M350.7 103.6h0M362.4 103.6h0M338.1 103.0h0M346.9 102.8h0M374.4 102.7h0M366.1 102.5h0M334.3 102.5h0M378.2 102.3h0M330.5 101.8h0M355.5 101.6h0M343.4 101.3h0M369.6 101.1h0M381.9 101.1h0M359.6 100.6h0M352.6 99.1h0M348.7 99.1h0M363.1 99.1h0M340.7 98.6h0M356.1 97.7h0M345.3 97.3h0M366.4 97.1h0M370.2 97.0h0M359.9 96.7h0M337.5 96.7h0M374.1 96.6h0M333.6 96.5h0M377.9 96.1h0M329.8 96.1h0M351.2 95.7h0M381.7 95.4h0M327.3 95.3h0M342.2 95.2h0M381.9 95.1h0M327.3 95.1h0M363.2 94.9h0M327.3 94.7h0M381.9 94.6h0M347.6 94.3h0M354.6 93.6h0M367.6 93.6h0M371.4 93.4h0M358.4 93.1h0M350.6 92.1h0M344.9 91.7h0M361.9 91.4h0M341.1 91.2h0M337.3 90.5h0M356.0 90.1h0M365.2 89.6h0M369.1 89.5h0M348.4 89.0h0M372.9 88.9h0M352.4 88.6h0M359.1 88.0h0M344.9 87.4h0M341.1 87.3h0M362.7 86.5h0M355.4 86.3h0M366.5 86.0h0M350.7 85.3h0M370.2 84.9h0M338.4 84.7h0M374.0 84.5h0M358.6 84.2h0M347.0 84.2h0M343.2 84.0h0M334.6 83.9h0M377.8 83.8h0M330.8 83.5h0M381.7 83.4h0M327.3 83.1h0M354.6 82.2h0M351.1 80.6h0M357.8 80.2h0M361.7 80.1h0M347.4 79.7h0M365.3 79.1h0M354.6 78.2h0M357.6 75.8h0M352.8 74.9h0M348.9 74.8h0M361.2 74.6h0M345.1 74.1h0M365.0 74.1h0M341.2 74.0h0M368.8 73.5h0M337.6 72.9h0M355.7 72.6h0M372.5 72.4h0M333.8 72.1h0M376.4 71.9h0M329.9 71.8h0M380.2 71.7h0M327.3 71.7h0M351.0 71.7h0M381.9 71.5h0M359.4 71.3h0M327.3 71.2h0M347.3 70.5h0M363.1 70.4h0M343.5 70.3h0M366.9 70.3h0M381.9 70.0h0M354.6 68.8h0M340.1 68.5h0M358.3 67.8h0M351.1 67.3h0M345.9 67.1h0M362.0 66.8h0M365.8 66.6h0M369.7 66.6h0M337.0 66.3h0M373.5 66.2h0M333.2 66.0h0M377.4 65.7h0M342.4 65.5h0M329.4 65.4h0M381.2 65.3h0M355.1 65.2h0M327.3 65.0h0M381.9 64.9h0M359.0 64.2h0M349.1 64.2h0M362.9 63.2h0M345.4 63.1h0M367.2 63.1h0M339.6 63.0h0M371.0 62.9h0M352.6 62.5h0M335.8 62.4h0M374.8 62.2h0M331.9 62.0h0M378.7 62.0h0M327.9 61.9h0M356.2 61.7h0M381.9 61.4h0M327.3 61.4h0M381.9 60.8h0M359.9 60.5h0M349.6 60.1h0M364.9 60.1h0M344.6 59.5h0M340.8 59.3h0M368.6 59.1h0M372.5 59.1h0M354.0 58.6h0M337.2 57.8h0M357.7 57.5h0M361.5 57.1h0M347.8 56.8h0M375.6 56.8h0M333.5 56.8h0M365.6 56.5h0M351.6 55.8h0M344.3 55.4h0M340.4 55.2h0M369.3 55.2h0M378.9 55.0h0M330.2 54.9h0M355.1 54.3h0M336.5 54.1h0M358.9 53.9h0M372.9 53.8h0M362.8 53.4h0M349.9 52.4h0M346.2 51.5h0M365.9 51.3h0M342.3 51.2h0M353.4 51.0h0M357.2 50.3h0M369.6 50.2h0M360.9 49.2h0M339.2 49.0h0M349.1 48.8h0M373.2 48.8h0M354.6 46.7h0M346.0 46.6h0M358.4 46.1h0M362.7 45.9h0M351.3 44.7h0M343.3 44.1h0M366.0 44.0h0M354.6 43.0h0M359.2 42.5h0M348.4 42.4h0M362.9 41.8h0M340.3 41.8h0M368.2 41.0h0M352.7 39.8h0M356.4 38.9h0M349.1 38.8h0M360.2 38.1h0M345.5 37.4h0M363.8 37.0h0M341.8 36.5h0M367.7 36.4h0M354.6 35.2h0M350.9 34.2h0M358.3 34.1h0M354.6 31.4h0M348.9 31.1h0M359.2 30.5h0" stroke="#8172b3" stroke-width="3.6" stroke-linecap="round" fill="none"/>
<path d="M422.8 191.2h0M422.8 169.5h0M422.8 162.9h0M419.0 162.6h0M426.4 161.5h0M415.8 160.4h0M430.0 160.2h0M412.0 160.1h0M433.8 160.0h0M422.8 158.8h0M419.0 158.2h0M408.8 158.0h0M426.5 157.8h0M436.4 157.3h0M414.6 156.9h0M431.3 156.7h0M440.2 156.6h0M405.3 156.4h0M444.1 156.2h0M401.5 155.9h0M447.9 155.9h0M397.6 155.7h0M450.1 155.7h0M395.5 155.6h0M421.4 155.4h0M411.3 155.2h0M395.5 155.1h0M450.1 155.1h0M417.6 154.6h0M450.1 154.6h0M428.4 154.5h0M395.5 154.4h0M434.0 154.1h0M395.5 153.8h0M450.1 153.8h0M437.9 153.7h0M395.5 153.7h0M424.6 153.5h0M407.9 153.4h0M450.1 153.3h0M441.7 152.9h0M414.3 152.9h0M404.1 152.8h0M445.5 152.7h0M399.9 152.6h0M449.3 152.3h0M396.0 152.3h0M450.1 152.1h0M395.5 152.0h0M420.2 151.9h0M430.9 151.8h0M450.1 151.6h0M395.5 151.6h0M411.0 151.2h0M450.1 151.2h0M427.2 150.8h0M395.5 150.8h0M435.3 150.6h0M450.1 150.4h0M395.5 150.4h0M423.4 150.0h0M416.9 150.0h0M407.2 149.8h0M439.1 149.7h0M442.9 149.4h0M402.7 149.4h0M447.1 149.3h0M399.1 149.0h0M450.1 148.9h0M395.5 148.9h0M450.1 148.5h0M395.5 148.5h0M432.1 148.3h0M413.5 148.2h0M420.2 148.1h0M450.1 147.9h0M395.5 147.8h0M395.5 147.6h0M450.1 147.4h0M425.9 147.2h0M409.8 147.1h0M435.6 146.9h0M395.5 146.8h0M450.1 146.8h0M405.5 146.5h0M395.5 146.4h0M416.8 146.3h0M440.2 146.2h0M444.5 146.0h0M401.5 145.9h0M448.3 145.9h0M397.1 145.8h0M429.4 145.6h0M450.1 145.4h0M395.5 145.4h0M422.8 145.2h0M450.1 145.1h0M395.5 144.9h0M450.1 144.7h0M413.5 144.5h0M432.9 144.3h0M395.5 144.3h0M395.5 144.1h0M450.1 144.1h0M408.1 143.8h0M450.1 143.7h0M437.4 143.6h0M419.5 143.5h0M426.2 143.4h0M395.5 143.3h0M404.1 143.1h0M441.8 142.8h0M399.6 142.7h0M445.8 142.6h0M395.5 142.6h0M449.7 142.3h0M395.5 142.2h0M450.1 142.0h0M416.2 141.8h0M429.7 141.8h0M395.5 141.7h0M422.8 141.5h0M411.5 141.3h0M450.1 141.2h0M395.5 141.2h0M434.5 140.9h0M450.1 140.6h0M406.6 140.4h0M438.9 140.2h0M395.5 140.0h0M402.1 139.9h0M419.3 139.9h0M450.1 139.9h0M426.1 139.6h0M443.4 139.5h0M398.1 139.3h0M447.5 139.3h0M395.5 139.1h0M450.1 139.0h0M414.1 138.7h0M395.5 138.7h0M431.3 138.4h0M395.5 138.2h0M409.5 138.1h0M450.1 138.1h0M422.8 137.8h0M395.5 137.7h0M436.2 137.6h0M450.1 137.4h0M404.7 137.2h0M450.1 137.0h0M417.3 136.8h0M440.0 136.7h0M450.1 136.6h0M428.1 136.4h0M401.1 136.4h0M445.1 136.2h0M395.5 136.1h0M450.1 136.1h0M449.3 136.0h0M397.1 135.7h0M395.5 135.6h0M412.2 135.5h0M433.2 135.2h0M395.5 135.1h0M450.1 135.0h0M420.5 134.8h0M407.9 134.8h0M424.7 134.6h0M395.5 134.5h0M450.1 134.5h0M395.5 134.2h0M437.4 134.1h0M450.1 134.1h0M403.7 133.7h0M442.1 133.6h0M450.1 133.6h0M415.4 133.5h0M395.5 133.5h0M429.8 133.1h0M450.1 133.1h0M399.7 132.9h0M446.6 132.8h0M395.5 132.7h0M450.1 132.6h0M395.9 132.2h0M410.9 132.1h0M395.5 132.1h0M422.7 131.4h0M418.8 131.4h0M426.5 131.4h0M433.0 131.2h0M407.2 131.1h0M395.5 131.1h0M439.1 130.8h0M450.1 130.7h0M395.5 130.6h0M443.8 130.3h0M414.5 130.0h0M403.5 129.9h0M450.1 129.7h0M395.5 129.7h0M398.5 129.4h0M429.7 129.4h0M447.9 129.3h0M395.5 129.1h0M450.1 129.1h0M435.8 128.5h0M409.9 128.5h0M395.5 128.3h0M424.5 128.2h0M420.6 128.1h0M395.5 127.9h0M441.2 127.8h0M450.1 127.7h0M395.5 127.6h0M406.3 127.4h0M417.0 127.2h0M395.5 127.0h0M432.4 126.8h0M401.8 126.6h0M444.8 126.6h0M413.2 126.4h0M450.1 126.4h0M395.5 126.4h0M427.7 126.1h0M450.1 125.9h0M398.1 125.8h0M395.5 125.8h0M450.1 125.7h0M437.8 125.4h0M448.4 125.3h0M450.1 125.2h0M395.5 125.1h0M422.8 124.8h0M409.8 124.7h0M395.5 124.6h0M450.1 124.4h0M395.5 124.2h0M419.1 124.1h0M405.0 123.9h0M441.3 123.9h0M434.6 123.7h0M415.5 123.4h0M430.2 123.4h0M450.1 123.3h0M395.5 123.1h0M401.0 123.0h0M445.1 122.9h0M425.9 122.6h0M450.1 122.6h0M395.5 122.4h0M395.5 122.2h0M397.3 122.2h0M450.1 122.1h0M449.7 121.8h0M412.1 121.7h0M437.6 121.5h0M407.9 121.4h0M395.5 121.4h0M421.8 121.2h0M395.5 121.0h0M450.1 120.8h0M450.1 120.7h0M395.5 120.7h0M418.0 120.5h0M432.5 120.4h0M404.3 120.3h0M441.3 120.2h0M395.5 120.1h0M450.1 120.1h0M428.5 119.9h0M395.5 119.6h0M400.3 119.4h0M445.3 119.2h0M450.1 119.2h0M424.7 119.0h0M395.5 119.0h0M414.5 118.8h0M395.5 118.6h0M410.3 118.4h0M435.6 118.2h0M396.7 118.2h0M448.9 117.9h0M420.5 117.8h0M450.1 117.7h0M395.5 117.7h0M406.7 117.4h0M430.9 117.1h0M439.3 117.0h0M450.1 117.0h0M403.0 116.7h0M395.5 116.6h0M442.9 116.4h0M450.1 116.3h0M427.2 116.1h0M417.1 116.1h0M395.5 116.1h0M450.1 115.8h0M412.8 115.6h0M423.4 115.5h0M399.4 115.4h0M450.1 115.4h0M450.1 115.1h0M446.5 114.9h0M434.0 114.8h0M395.5 114.7h0M409.1 114.3h0M450.1 114.3h0M450.1 114.0h0M395.5 114.0h0M420.1 113.8h0M437.6 113.7h0M405.4 113.6h0M429.8 113.5h0M450.1 113.3h0M395.5 113.2h0M441.3 113.0h0M415.4 112.8h0M425.8 112.7h0M450.1 112.5h0M401.8 112.4h0M395.5 112.2h0M450.1 111.9h0M411.8 111.6h0M444.8 111.5h0M398.1 111.3h0M395.5 111.3h0M450.1 111.3h0M432.8 111.2h0M450.1 110.9h0M422.6 110.7h0M408.0 110.7h0M448.5 110.6h0M418.4 110.5h0M395.5 110.4h0M450.1 110.3h0M428.5 110.0h0M436.5 110.0h0M450.1 109.8h0M404.4 109.7h0M395.5 109.6h0M440.3 109.5h0M414.9 109.0h0M450.1 108.9h0M400.7 108.6h0M450.1 108.6h0M395.5 108.5h0M425.2 108.0h0M411.2 107.9h0M431.5 107.7h0M420.7 107.5h0M443.5 107.5h0M447.2 107.1h0M407.5 107.0h0M397.3 106.9h0M395.5 106.8h0M435.0 106.2h0M450.1 106.2h0M428.2 105.7h0M417.4 105.6h0M438.8 105.5h0M404.1 105.2h0M450.1 105.1h0M413.6 104.9h0M422.8 103.9h0M431.5 103.8h0M410.0 103.4h0M442.0 103.4h0M400.7 103.4h0M445.9 103.2h0M396.9 102.8h0M426.2 102.2h0M419.5 102.1h0M434.9 102.1h0M406.5 102.0h0M449.5 101.9h0M395.5 101.9h0M415.7 101.4h0M438.6 101.0h0M450.1 100.7h0M429.6 100.5h0M403.0 100.4h0M395.5 100.4h0M422.8 99.9h0M412.3 99.6h0M441.9 99.1h0M445.8 99.0h0M418.3 98.6h0M426.3 98.5h0M432.4 97.9h0M436.3 97.7h0M409.0 97.6h0M400.6 97.5h0M405.2 97.3h0M396.8 97.3h0M449.1 97.1h0M395.5 97.0h0M422.0 96.4h0M429.1 96.0h0M415.6 96.0h0M439.6 95.9h0M443.7 95.8h0M450.1 95.7h0M395.5 95.5h0M411.9 95.1h0M450.1 95.0h0M425.4 94.9h0M434.1 94.6h0M418.8 94.2h0M408.2 94.0h0M404.5 93.2h0M400.6 93.0h0M437.5 92.8h0M445.9 92.8h0M422.4 92.7h0M430.7 92.6h0M415.2 92.3h0M441.3 92.2h0M396.9 91.8h0M427.0 91.5h0M411.2 91.5h0M449.5 91.4h0M395.5 91.0h0M434.0 90.7h0M419.4 90.3h0M407.8 89.7h0M403.5 89.6h0M443.9 89.4h0M424.0 89.3h0M438.6 89.3h0M429.7 88.9h0M416.1 88.4h0M399.9 88.4h0M412.3 87.9h0M447.3 87.7h0M396.1 87.6h0M435.1 87.2h0M421.2 86.8h0M426.6 86.7h0M405.7 86.6h0M441.0 86.4h0M450.1 86.3h0M395.5 86.0h0M450.1 85.9h0M431.6 85.8h0M395.5 85.7h0M450.1 85.7h0M409.5 85.3h0M402.1 85.2h0M444.5 85.2h0M418.0 84.8h0M414.1 84.6h0M423.3 83.7h0M427.9 83.2h0M434.4 83.2h0M438.2 83.0h0M406.7 82.8h0M399.5 82.5h0M442.0 82.2h0M446.7 82.1h0M420.3 81.4h0M416.5 81.2h0M431.0 80.9h0M412.6 80.7h0M403.6 80.6h0M424.5 80.2h0M435.2 79.6h0M409.0 79.4h0M439.0 79.1h0M444.0 79.1h0M427.9 78.7h0M400.4 78.5h0M447.7 78.2h0M418.9 78.0h0M396.6 78.0h0M450.1 77.9h0M415.1 77.3h0M431.4 77.2h0M422.6 77.0h0M406.2 76.9h0M395.5 76.7h0M411.3 76.3h0M441.4 76.2h0M426.1 75.4h0M434.7 75.2h0M402.8 75.1h0M445.1 75.1h0M398.9 75.0h0M420.0 74.3h0M429.6 74.0h0M416.2 73.7h0M408.7 73.6h0M438.0 73.3h0M448.4 73.2h0M395.6 73.1h0M450.1 73.0h0M423.5 72.7h0M412.5 72.6h0M441.7 72.5h0M432.9 72.0h0M405.2 72.0h0M450.1 71.9h0M401.2 71.8h0M395.5 71.7h0M450.1 71.7h0M426.9 71.3h0M445.2 71.1h0M420.3 70.6h0M395.5 70.3h0M450.1 70.1h0M415.4 70.1h0M409.8 69.9h0M435.9 69.7h0M398.0 69.7h0M449.3 69.6h0M395.5 69.5h0M439.6 69.5h0M423.8 68.9h0M429.5 68.5h0M406.3 68.5h0M418.3 67.4h0M426.3 66.2h0M414.7 66.1h0M432.3 66.0h0M422.2 65.6h0M411.2 64.6h0M435.7 64.4h0M407.4 63.9h0M439.6 63.9h0M418.9 63.7h0M428.8 63.3h0M403.6 63.3h0M443.3 62.9h0M424.6 62.7h0M399.8 62.6h0M415.3 62.3h0M432.5 62.3h0M447.1 62.1h0M395.9 62.1h0M450.1 62.1h0M395.5 62.0h0M395.5 61.7h0M450.1 61.5h0M411.9 61.0h0M421.5 60.6h0M435.9 60.6h0M406.2 60.4h0M440.5 60.3h0M395.5 60.3h0M450.1 60.2h0M427.1 59.9h0M402.6 59.8h0M395.5 59.7h0M450.1 59.7h0M417.9 59.6h0M444.4 59.4h0M430.8 58.9h0M398.8 58.9h0M414.4 57.9h0M423.9 57.8h0M410.1 57.7h0M437.9 57.4h0M434.0 56.9h0M420.4 56.2h0M427.1 55.7h0M416.8 55.0h0M430.8 54.9h0M407.6 54.9h0M412.7 54.6h0M423.4 53.9h0M436.2 53.8h0M440.0 53.7h0M404.1 53.4h0M443.9 53.3h0M400.2 53.2h0M447.7 53.0h0M396.4 52.8h0M420.0 52.2h0M426.7 52.0h0M415.9 51.4h0M430.4 51.0h0M412.2 51.0h0M408.3 51.0h0M450.1 51.0h0M395.5 50.8h0M395.5 50.7h0M450.1 50.7h0M423.2 50.2h0M434.0 49.7h0M418.6 48.8h0M437.8 48.7h0M427.8 48.5h0M406.0 48.0h0M421.9 46.8h0M416.2 45.9h0M425.0 44.6h0M428.9 44.4h0M432.7 44.2h0M412.9 44.1h0M419.5 43.9h0M436.5 43.7h0M409.1 43.5h0M440.4 43.3h0M405.2 43.1h0M444.2 42.9h0M401.4 42.7h0M448.1 42.5h0M397.5 42.5h0M422.8 37.3h0M419.0 36.5h0M426.5 36.1h0M430.3 35.8h0M415.3 35.5h0M434.1 35.2h0M411.5 34.8h0M437.9 34.5h0M407.7 34.2h0M422.8 32.1h0M426.6 31.2h0M419.4 30.4h0M422.8 24.6h0M422.8 18.5h0M422.8 12.1h0" stroke="#937860" stroke-width="3.6" stroke-linecap="round" fill="none"/>
<path d="M491.0 171.4h0M490.5 167.7h0M494.3 166.9h0M491.0 164.1h0M487.7 162.2h0M491.0 158.5h0M487.5 156.9h0M494.0 156.2h0M497.8 155.8h0M483.9 155.6h0M501.7 155.5h0M480.1 155.1h0M505.5 155.0h0M490.6 154.4h0M476.3 154.3h0M509.1 153.8h0M472.5 153.6h0M513.0 153.3h0M486.9 153.1h0M468.7 153.0h0M516.8 153.0h0M464.9 152.9h0M518.3 152.9h0M463.7 152.8h0M495.4 152.8h0M499.2 152.2h0M482.5 152.2h0M503.0 151.8h0M463.7 151.6h0M478.8 151.6h0M518.3 151.2h0M463.7 151.2h0M492.1 151.1h0M506.8 150.8h0M475.1 150.8h0M463.7 150.5h0M510.7 150.4h0M488.7 149.4h0M496.6 149.3h0M484.8 149.1h0M471.7 149.1h0M467.9 149.0h0M514.2 148.9h0M500.5 148.7h0M464.0 148.7h0M481.1 148.6h0M518.1 148.3h0M463.7 148.1h0M493.2 147.5h0M503.7 146.6h0M477.9 146.6h0M507.6 146.5h0M511.3 146.5h0M474.1 146.2h0M487.1 146.0h0M518.3 146.0h0M497.2 145.6h0M483.3 145.3h0M470.4 145.3h0M514.8 144.9h0M466.5 144.9h0M463.7 144.8h0M491.0 144.5h0M463.7 144.4h0M500.7 144.0h0M480.1 143.5h0M505.5 143.4h0M509.4 143.3h0M476.4 143.2h0M518.2 143.2h0M494.4 142.7h0M485.9 142.5h0M472.7 142.0h0M512.9 141.7h0M491.0 140.7h0M496.0 139.4h0M487.6 138.9h0M483.7 138.7h0M499.8 138.7h0M479.9 138.6h0M503.7 138.6h0M476.0 138.2h0M507.4 137.5h0M472.3 137.5h0M492.9 137.4h0M511.2 137.1h0M468.6 136.2h0M489.5 135.7h0M496.0 135.4h0M485.6 135.2h0M499.8 134.6h0M481.9 134.4h0M503.7 134.2h0M478.0 134.2h0M492.4 133.2h0M507.4 133.1h0M488.2 132.2h0M474.8 132.2h0M497.3 131.9h0M484.5 131.6h0M510.9 131.6h0M501.1 131.1h0M480.8 130.7h0M471.3 130.5h0M504.9 130.4h0M514.4 130.2h0M467.5 130.1h0M518.3 130.0h0M494.1 129.9h0M463.7 129.9h0M463.7 129.7h0M518.3 129.6h0M490.3 129.1h0M477.3 129.0h0M463.7 128.9h0M508.3 128.8h0M486.5 128.4h0M498.6 128.4h0M518.3 128.4h0M463.7 128.3h0M518.3 127.9h0M463.7 127.9h0M482.9 127.6h0M502.1 127.0h0M474.3 126.7h0M511.5 126.7h0M495.3 126.4h0M470.5 126.4h0M479.4 125.9h0M505.8 125.8h0M515.2 125.8h0M466.7 125.7h0M491.2 125.5h0M518.3 125.4h0M463.7 125.4h0M518.3 125.1h0M487.5 124.7h0M498.7 124.7h0M463.7 124.6h0M518.3 124.4h0M518.3 124.2h0M463.7 124.1h0M483.7 123.9h0M476.5 123.6h0M502.3 123.2h0M493.9 123.0h0M508.3 123.0h0M472.7 122.9h0M512.1 122.8h0M480.2 122.2h0M468.9 122.1h0M490.3 121.7h0M486.5 120.9h0M497.0 120.7h0M504.8 120.4h0M515.0 120.4h0M475.3 120.1h0M465.7 120.0h0M500.7 119.9h0M510.1 119.7h0M483.0 119.7h0M518.3 119.6h0M463.7 119.6h0M493.0 119.0h0M471.6 119.0h0M479.3 118.6h0M463.7 118.6h0M518.3 118.6h0M489.3 118.1h0M518.3 117.9h0M463.7 117.9h0M506.8 117.3h0M496.1 116.9h0M485.8 116.4h0M502.1 116.4h0M476.2 116.4h0M511.6 116.4h0M469.1 116.2h0M482.1 116.1h0M515.4 115.9h0M465.3 115.6h0M518.3 115.5h0M492.0 115.5h0M463.7 115.4h0M472.7 115.0h0M518.3 114.7h0M463.7 114.7h0M498.7 114.2h0M518.3 114.2h0M508.7 114.1h0M505.0 114.0h0M488.6 113.7h0M495.0 113.2h0M479.7 113.2h0M484.8 112.9h0M475.9 112.6h0M470.3 112.1h0M501.6 111.7h0M491.5 111.2h0M506.8 110.7h0M497.6 110.5h0M510.6 110.5h0M488.2 109.2h0M494.1 108.5h0M484.5 108.3h0M500.5 108.1h0M480.8 107.1h0M504.1 106.8h0M477.0 106.6h0M491.0 106.6h0M497.1 106.2h0M507.8 105.8h0M487.3 105.5h0M473.3 105.4h0M511.7 105.3h0M469.5 105.3h0M515.5 105.2h0M465.6 104.9h0M518.3 104.8h0M483.6 104.4h0M500.5 104.3h0M493.6 103.9h0M463.7 103.8h0M479.4 103.7h0M518.3 103.6h0M504.1 103.0h0M463.7 102.9h0M490.0 102.5h0M475.7 102.5h0M496.9 102.0h0M486.3 101.5h0M507.6 101.4h0M481.9 101.1h0M472.2 100.9h0M511.3 100.7h0M501.1 100.7h0M468.4 100.3h0M515.2 100.3h0M492.6 99.9h0M478.4 99.8h0M464.6 99.8h0M489.0 98.6h0M504.3 98.6h0M518.3 98.5h0M497.9 98.4h0M485.2 97.9h0M475.1 97.8h0M508.0 97.7h0M463.7 97.6h0M481.4 97.4h0M471.3 97.3h0M512.3 97.1h0M518.3 97.0h0M494.5 96.6h0M501.0 96.1h0M467.8 95.7h0M478.1 95.4h0M491.0 94.8h0M487.1 94.7h0M497.7 94.5h0M504.4 94.5h0M515.0 94.5h0M473.8 94.4h0M483.4 93.7h0M508.2 93.6h0M464.6 93.6h0M518.3 93.3h0M463.7 93.1h0M518.3 93.0h0M494.2 92.9h0M470.3 92.9h0M463.7 92.6h0M500.7 92.3h0M489.2 91.5h0M485.5 90.4h0M496.7 90.1h0M481.6 90.1h0M503.8 90.0h0M492.4 89.6h0M477.8 89.6h0M507.6 89.5h0M473.9 89.4h0M500.2 88.5h0M511.3 88.5h0M470.3 88.3h0M489.3 87.5h0M515.0 87.4h0M466.5 87.3h0M518.3 87.2h0M463.7 87.1h0M494.8 86.7h0M485.9 85.6h0M482.1 85.4h0M498.3 85.4h0M502.1 85.0h0M491.3 84.4h0M478.6 83.8h0M505.7 83.6h0M474.8 83.2h0M494.8 82.9h0M488.3 82.1h0M484.4 82.0h0M498.2 81.0h0M502.0 81.0h0M508.3 80.9h0M491.7 80.7h0M481.0 80.3h0M477.1 80.1h0M473.0 79.9h0M512.0 79.8h0M469.1 79.7h0M515.8 79.5h0M465.3 79.2h0M518.3 79.1h0M463.7 79.0h0M495.0 78.9h0M488.9 78.2h0M485.1 77.6h0M499.4 77.5h0M503.3 77.4h0M507.1 77.2h0M518.3 77.2h0M492.1 76.3h0M481.5 76.2h0M477.6 76.2h0M473.8 76.0h0M510.8 76.0h0M469.9 75.9h0M514.6 75.8h0M463.8 75.8h0M518.3 75.6h0M463.7 75.5h0M496.1 75.4h0M463.7 75.2h0M518.3 75.1h0M488.8 74.4h0M463.7 74.4h0M501.0 74.2h0M504.7 74.0h0M485.0 73.8h0M518.3 73.7h0M463.7 73.7h0M493.3 72.8h0M480.3 72.7h0M496.9 71.4h0M490.1 70.7h0M500.6 70.5h0M483.4 70.4h0M477.8 69.9h0M504.3 69.8h0M474.0 69.6h0M493.1 68.4h0M488.3 67.5h0M496.8 67.1h0M481.8 67.1h0M501.8 67.0h0M476.3 66.5h0M505.5 66.1h0M509.4 65.8h0M472.5 65.7h0M491.2 65.0h0M486.1 64.4h0M494.8 63.7h0M498.7 63.5h0M482.4 63.4h0M502.5 63.2h0M478.8 62.1h0M489.0 62.0h0M505.9 61.6h0M485.5 60.8h0M492.5 60.4h0M496.4 60.0h0M481.8 59.8h0M500.2 59.7h0M503.7 58.5h0M489.5 58.0h0M478.6 57.8h0M474.7 57.6h0M507.3 57.3h0M485.1 57.1h0M470.9 57.1h0M511.2 57.1h0M493.3 56.8h0M497.2 56.3h0M467.1 56.2h0M501.0 55.8h0M481.6 55.4h0M514.5 55.2h0M518.3 54.9h0M490.7 54.0h0M486.9 53.6h0M478.3 53.6h0M494.8 53.3h0M498.3 51.8h0M484.1 51.1h0M492.2 50.7h0M501.9 50.6h0M488.6 49.4h0M495.7 49.1h0M481.4 48.4h0M499.4 47.8h0M491.5 46.9h0M487.3 46.0h0M502.7 45.9h0M494.2 44.4h0M484.0 44.1h0M491.0 42.4h0M487.4 41.1h0M494.3 40.4h0M491.0 34.4h0M488.5 31.6h0M491.0 27.9h0M487.1 27.8h0M491.0 24.1h0M487.2 23.2h0M493.5 21.3h0M491.0 17.7h0" stroke="#da8bc3" stroke-width="3.6" stroke-linecap="round" fill="none"/>
<path d="M559.2 167.2h0M559.2 158.5h0M555.5 157.4h0M562.6 156.9h0M566.5 156.3h0M552.0 155.9h0M570.3 155.7h0M548.2 155.1h0M559.2 153.2h0M563.1 153.2h0M555.3 153.1h0M567.6 152.8h0M572.3 152.6h0M551.1 152.3h0M545.9 152.2h0M576.2 152.2h0M542.0 151.9h0M580.0 151.8h0M538.1 151.7h0M583.9 151.5h0M534.3 151.4h0M586.5 151.2h0M531.9 151.1h0M531.9 150.7h0M586.5 150.7h0M586.5 150.1h0M557.5 149.9h0M561.3 149.8h0M553.7 149.6h0M565.2 149.3h0M569.0 149.1h0M549.4 149.1h0M572.9 148.7h0M545.9 147.4h0M542.1 147.3h0M576.5 147.3h0M538.2 147.3h0M580.3 146.8h0M534.4 146.7h0M559.2 146.4h0M563.0 146.3h0M555.3 146.1h0M551.7 146.1h0M566.8 146.0h0M584.0 145.8h0M570.7 145.6h0M531.9 145.3h0M586.5 145.1h0M531.9 144.9h0M548.3 144.2h0M544.5 144.0h0M574.1 143.9h0M540.6 143.8h0M577.9 143.7h0M536.8 143.7h0M586.5 143.5h0M558.5 142.7h0M562.3 142.6h0M554.2 142.6h0M568.4 142.6h0M581.5 142.4h0M533.2 142.4h0M585.4 141.9h0M531.9 141.5h0M586.5 141.4h0M550.7 141.1h0M586.5 141.1h0M531.9 141.0h0M546.9 140.8h0M571.7 140.7h0M542.8 140.7h0M564.9 139.9h0M575.5 139.8h0M539.1 139.7h0M559.2 139.1h0M555.4 138.7h0M568.5 138.7h0M579.1 138.4h0M535.5 138.3h0M551.7 137.5h0M545.6 137.4h0M562.2 136.7h0M571.7 136.6h0M541.8 136.4h0M558.6 135.4h0M565.8 135.4h0M554.8 134.8h0M549.2 134.7h0M574.8 134.5h0M578.7 134.2h0M538.8 134.2h0M582.5 133.9h0M534.9 133.9h0M569.1 133.5h0M545.5 133.5h0M586.4 133.5h0M531.9 133.1h0M561.5 133.0h0M557.3 131.9h0M565.1 131.7h0M553.7 130.6h0M549.9 130.3h0M570.1 130.0h0M544.6 129.9h0M573.9 129.9h0M540.8 129.8h0M577.8 129.8h0M536.9 129.7h0M581.7 129.7h0M533.0 129.6h0M559.9 129.2h0M585.5 129.2h0M531.9 129.2h0M586.5 129.0h0M531.9 128.6h0M586.5 128.5h0M556.4 127.7h0M563.4 127.6h0M567.2 127.5h0M552.6 126.9h0M548.6 126.8h0M571.9 126.8h0M542.9 126.6h0M575.8 126.3h0M539.1 126.2h0M579.6 126.1h0M559.5 125.5h0M535.3 125.2h0M583.4 125.2h0M531.9 125.1h0M586.5 124.9h0M531.9 124.4h0M556.0 124.0h0M563.0 123.9h0M568.1 123.9h0M551.4 123.4h0M547.7 123.2h0M572.2 123.1h0M543.8 123.0h0M576.8 122.8h0M586.5 122.8h0M531.9 122.7h0M540.0 122.5h0M580.6 122.5h0M586.5 122.4h0M586.5 122.0h0M559.2 121.7h0M536.2 121.7h0M584.3 121.6h0M532.4 121.5h0M531.9 121.3h0M565.5 121.2h0M586.5 121.0h0M554.1 120.8h0M531.9 120.6h0M549.7 120.1h0M562.1 119.3h0M568.8 119.2h0M546.1 118.8h0M558.5 118.1h0M572.4 118.0h0M542.3 117.9h0M576.3 117.7h0M538.5 117.5h0M565.4 117.4h0M552.7 117.3h0M580.1 117.2h0M534.7 117.1h0M583.9 117.0h0M531.9 116.9h0M586.5 116.9h0M549.1 116.1h0M531.9 116.0h0M586.5 115.7h0M561.2 115.5h0M556.2 115.2h0M568.4 115.0h0M545.4 114.9h0M531.9 114.9h0M586.5 114.8h0M573.4 114.4h0M541.8 114.3h0M577.7 114.3h0M537.0 114.2h0M531.9 114.1h0M586.5 114.0h0M581.8 113.9h0M564.5 113.6h0M552.8 113.4h0M533.2 113.3h0M585.6 113.2h0M586.5 113.2h0M531.9 112.9h0M586.5 112.7h0M559.2 112.2h0M549.2 112.0h0M586.5 112.0h0M570.5 112.0h0M531.9 111.9h0M586.5 111.6h0M545.5 111.1h0M555.6 110.9h0M574.2 110.8h0M540.7 110.8h0M566.8 110.7h0M578.0 110.4h0M562.5 110.2h0M537.0 109.8h0M581.8 109.8h0M552.2 109.1h0M533.2 109.0h0M585.6 109.0h0M531.9 108.9h0M586.5 108.8h0M559.2 108.4h0M569.6 108.2h0M548.6 108.0h0M544.1 107.7h0M586.5 107.6h0M531.9 107.6h0M565.0 107.4h0M575.6 107.4h0M555.6 107.0h0M540.3 106.8h0M579.4 106.7h0M536.5 106.1h0M583.1 105.7h0M561.0 105.1h0M552.5 104.8h0M567.5 104.6h0M548.7 104.2h0M557.6 103.3h0M571.1 103.2h0M564.1 103.1h0M545.1 102.9h0M574.9 102.8h0M541.2 102.6h0M578.8 102.4h0M537.4 102.4h0M582.6 102.0h0M554.2 101.4h0M560.7 101.2h0M533.7 101.2h0M557.6 99.1h0M563.5 98.7h0M551.8 98.6h0M567.3 98.1h0M548.0 97.8h0M571.2 97.7h0M544.2 97.0h0M575.0 96.9h0M540.4 96.7h0M560.1 96.3h0M556.2 95.6h0M578.5 95.6h0M536.7 95.5h0M582.4 95.4h0M532.9 95.4h0M563.6 94.8h0M552.4 94.8h0M567.8 94.4h0M548.6 94.1h0M571.7 94.1h0M585.9 93.9h0M531.9 93.8h0M543.3 93.4h0M575.5 93.0h0M558.8 92.9h0M555.1 91.8h0M539.8 91.7h0M565.3 91.5h0M561.6 90.3h0M551.8 89.9h0M568.7 89.8h0M547.9 89.8h0M557.9 89.2h0M572.3 88.6h0M544.3 88.5h0M576.2 88.1h0M540.5 88.0h0M563.2 87.0h0M559.3 85.8h0M555.6 85.0h0M566.3 84.7h0M551.7 84.5h0M570.1 84.3h0M547.9 83.8h0M562.1 83.2h0M573.8 83.2h0M544.2 83.1h0M577.7 83.0h0M540.3 82.5h0M558.6 81.5h0M554.8 81.3h0M565.2 81.0h0M550.6 80.9h0M568.9 79.9h0M546.9 79.8h0M561.7 79.4h0M572.5 78.5h0M557.1 78.2h0M553.3 77.7h0M543.8 77.7h0M565.8 77.4h0M576.2 77.4h0M539.9 77.2h0M549.5 76.9h0M579.9 76.6h0M560.2 75.9h0M569.4 75.9h0M536.5 75.6h0M583.6 75.5h0M532.6 75.5h0M586.5 75.2h0M531.9 75.0h0M546.3 74.9h0M556.3 74.6h0M572.9 74.5h0M586.5 74.5h0M531.9 74.5h0M563.5 74.0h0M552.6 73.6h0M542.7 73.5h0M576.6 73.2h0M580.7 73.0h0M567.0 72.6h0M539.0 72.5h0M531.9 72.4h0M534.6 72.4h0M559.2 72.1h0M549.2 71.8h0M584.3 71.8h0M531.9 71.6h0M570.7 71.5h0M586.5 71.2h0M531.9 71.1h0M555.6 70.9h0M545.5 70.7h0M562.5 70.2h0M574.3 70.0h0M541.8 69.8h0M552.6 68.5h0M559.2 68.4h0M561.0 65.2h0M557.3 64.4h0M564.7 63.9h0M553.4 63.8h0M568.5 63.4h0M549.6 63.3h0M572.4 63.3h0M546.0 62.1h0M575.9 61.9h0M542.1 61.9h0M559.7 61.5h0M579.8 61.5h0M538.3 61.4h0M583.6 61.3h0M534.4 61.1h0M586.5 61.1h0M531.9 61.1h0M555.9 60.6h0M563.0 59.7h0M552.4 59.2h0M566.8 59.2h0M548.5 59.1h0M570.7 58.9h0M544.8 58.1h0M559.2 56.9h0M555.4 56.0h0M562.7 55.3h0M566.5 55.1h0M551.8 54.8h0M570.3 54.5h0M547.9 54.4h0M574.1 53.7h0M559.2 53.2h0M544.4 53.0h0M577.8 52.8h0M540.5 52.6h0M555.6 52.0h0M563.9 51.8h0M567.7 51.4h0M551.8 51.1h0M581.2 51.0h0M548.0 50.6h0M571.4 50.1h0M575.1 50.1h0M559.2 49.1h0M544.8 48.5h0M554.4 48.5h0M562.8 47.8h0M566.7 47.6h0M550.9 47.0h0M572.6 46.7h0M576.4 46.2h0M558.0 45.6h0M569.2 44.8h0M560.6 42.9h0M556.9 41.9h0M563.5 40.5h0M553.7 39.9h0M559.2 34.2h0M559.2 25.2h0M555.8 23.4h0" stroke="#8c8c8c" stroke-width="3.6" stroke-linecap="round" fill="none"/>
<path d="M627.4 163.5h0M624.2 161.4h0M629.3 160.2h0M633.1 159.9h0M620.8 159.7h0M636.9 159.0h0M617.1 158.6h0M626.5 157.7h0M629.8 155.8h0M623.2 155.7h0M633.7 155.7h0M619.4 155.2h0M637.5 155.1h0M615.6 154.7h0M641.3 154.3h0M626.9 153.4h0M612.0 153.3h0M644.9 153.2h0M608.2 152.8h0M630.8 152.3h0M623.3 152.0h0M634.7 152.0h0M618.3 151.7h0M648.4 151.7h0M638.5 151.5h0M604.6 151.4h0M652.3 151.2h0M614.7 150.7h0M642.1 150.2h0M627.4 149.1h0M631.5 148.7h0M623.8 147.8h0M634.7 146.6h0M620.3 146.2h0M629.1 145.7h0M616.6 145.3h0M638.0 144.7h0M641.8 144.6h0M625.6 144.1h0M632.2 143.6h0M613.3 143.3h0M622.1 142.7h0M644.9 142.4h0M609.6 142.3h0M648.8 142.3h0M628.7 141.9h0M635.5 141.7h0M618.4 141.5h0M639.2 141.2h0M605.9 141.1h0M652.4 141.0h0M602.1 140.9h0M654.7 140.7h0M600.1 140.7h0M625.3 140.0h0M631.3 139.2h0M615.4 139.2h0M622.1 138.1h0M634.9 137.9h0M640.4 137.7h0M611.9 137.7h0M644.3 137.6h0M627.9 137.3h0M608.1 137.2h0M648.1 137.1h0M618.4 136.9h0M604.3 136.3h0M651.8 135.9h0M600.5 135.9h0M654.7 135.8h0M631.3 135.5h0M624.9 135.0h0M637.3 134.9h0M615.2 134.9h0M600.1 134.5h0M621.2 134.2h0M640.8 133.5h0M611.6 133.5h0M627.7 132.5h0M633.5 132.4h0M618.1 132.0h0M644.2 131.7h0M623.8 131.5h0M608.4 131.4h0M636.9 130.8h0M614.5 130.6h0M647.9 130.5h0M630.2 129.7h0M640.6 129.7h0M605.0 129.6h0M651.6 129.6h0M601.2 129.4h0M620.8 129.2h0M626.5 128.9h0M633.8 128.5h0M617.2 127.8h0M612.2 127.6h0M643.7 127.4h0M637.4 127.0h0M608.4 127.0h0M654.3 127.0h0M623.7 126.3h0M628.7 125.9h0M647.1 125.7h0M620.2 125.5h0M605.0 125.2h0M632.5 125.0h0M614.8 124.9h0M640.3 124.6h0M650.8 124.6h0M601.3 124.4h0M611.2 124.1h0M654.7 123.9h0M635.9 123.6h0M644.0 123.6h0M626.2 123.1h0M600.1 123.1h0M622.5 122.5h0M618.0 122.4h0M630.0 122.1h0M608.1 121.9h0M613.9 121.3h0M633.5 120.8h0M638.2 120.7h0M642.0 120.2h0M645.9 120.1h0M649.7 119.8h0M605.0 119.7h0M625.0 119.6h0M621.4 119.0h0M616.7 119.0h0M628.4 117.8h0M635.1 117.5h0M639.7 117.3h0M613.3 117.3h0M643.9 117.0h0M609.5 116.8h0M647.7 116.7h0M651.5 116.4h0M603.7 116.2h0M625.1 115.8h0M631.5 115.7h0M621.4 115.0h0M634.7 113.8h0M627.6 113.0h0M618.5 112.5h0M638.3 112.4h0M623.9 112.1h0M631.4 111.9h0M614.7 111.8h0M642.0 111.4h0M610.8 111.3h0M645.8 111.3h0M607.0 111.1h0M621.1 109.5h0M627.4 109.2h0M633.8 109.1h0M617.3 108.8h0M637.6 108.7h0M648.5 108.7h0M604.2 108.5h0M652.4 108.5h0M600.3 108.5h0M613.6 107.9h0M643.2 107.9h0M609.5 107.9h0M630.5 107.1h0M624.3 107.0h0M654.7 106.7h0M600.1 106.5h0M654.7 106.1h0M600.1 106.1h0M619.8 106.0h0M634.6 105.5h0M639.3 105.4h0M627.4 104.8h0M616.2 104.7h0M611.7 104.7h0M642.7 103.7h0M646.6 103.6h0M631.4 103.5h0M624.0 103.0h0M608.4 102.8h0M620.3 101.9h0M627.4 100.9h0M633.8 100.6h0M637.6 99.8h0M617.4 99.5h0M623.6 99.3h0M613.6 99.1h0M641.4 98.9h0M630.5 98.8h0M609.7 98.7h0M645.2 98.6h0M605.9 98.5h0M648.9 97.6h0M602.1 97.6h0M652.8 97.5h0M627.2 96.9h0M633.5 96.5h0M621.2 96.5h0M600.1 96.4h0M654.7 96.3h0M637.3 96.1h0M616.2 96.0h0M600.1 95.8h0M654.7 95.8h0M612.2 95.7h0M600.1 95.7h0M641.0 94.8h0M629.3 93.8h0M625.5 93.5h0M619.0 93.4h0M635.1 93.2h0M644.3 93.1h0M638.7 91.8h0M627.4 89.7h0M631.2 89.1h0M624.2 87.6h0M620.3 87.6h0M634.1 86.7h0M638.0 86.6h0M628.5 86.1h0M616.9 86.0h0M641.7 85.7h0M613.1 85.2h0M645.5 84.8h0M625.4 84.0h0M621.5 84.0h0M631.3 83.6h0M635.1 82.8h0M639.0 82.8h0M610.4 82.6h0M615.6 82.5h0M606.6 82.4h0M628.1 81.4h0M624.5 80.1h0M631.9 80.0h0M620.6 79.5h0M635.6 78.9h0M616.9 78.6h0M639.4 78.5h0M627.4 77.3h0M613.4 77.1h0M642.9 76.9h0M631.1 76.3h0M623.8 75.8h0M620.0 75.7h0M609.8 75.6h0M636.6 75.3h0M646.3 75.1h0M616.3 74.7h0M606.1 74.5h0M640.2 74.0h0M627.4 73.4h0M632.8 73.0h0M613.0 72.8h0M649.2 72.7h0M602.8 72.6h0M622.4 72.4h0M618.6 71.7h0M636.3 71.4h0M626.1 69.9h0M630.0 69.5h0M622.5 68.7h0M633.4 67.8h0M618.8 67.5h0M637.2 67.2h0M615.0 67.1h0M641.0 67.0h0M611.1 66.6h0M627.4 66.3h0M644.7 66.0h0M607.5 65.4h0M648.6 65.3h0M603.6 65.3h0M630.8 64.5h0M624.8 63.6h0M621.1 62.4h0M627.9 61.3h0M624.5 59.5h0M627.4 57.1h0M631.3 57.1h0M621.8 56.9h0M635.0 56.3h0M618.0 56.3h0M638.8 55.7h0M614.2 55.6h0M642.7 55.5h0M610.3 55.4h0M646.5 54.9h0M625.3 54.1h0M629.1 53.5h0M620.5 53.4h0M632.7 52.1h0M636.4 51.2h0M623.3 50.9h0M627.2 50.3h0M620.0 49.1h0M630.6 48.7h0M616.2 48.3h0M625.7 46.9h0M634.0 46.9h0M637.8 46.6h0M641.7 46.4h0M622.2 45.4h0M613.9 45.3h0M627.9 43.9h0M631.7 43.2h0M624.8 41.7h0M627.4 38.2h0M626.1 34.7h0M627.4 31.2h0M626.1 27.8h0" stroke="#ccb974" stroke-width="3.6" stroke-linecap="round" fill="none"/>
<path d="M695.6 159.7h0M693.6 156.6h0M696.9 154.7h0M691.5 153.5h0M695.6 113.8h0M691.8 113.5h0M699.2 112.4h0M688.2 112.1h0M695.6 99.6h0M695.6 89.0h0M695.1 85.3h0M698.8 84.3h0M692.6 82.5h0M695.6 75.1h0M695.6 63.6h0M695.6 52.8h0M692.0 51.6h0" stroke="#64b5cd" stroke-width="3.6" stroke-linecap="round" fill="none"/>
<path d="M111.6 462.4h0M106.9 462.0h0M116.3 461.9h0M102.5 460.3h0M120.5 459.9h0M125.1 458.9h0M111.6 455.5h0M116.3 454.7h0M107.0 454.6h0M111.6 449.1h0M107.1 447.6h0M111.6 441.5h0M107.0 440.5h0M116.2 440.3h0M120.8 439.4h0M102.6 438.8h0M97.9 438.4h0M125.2 437.8h0M111.6 436.5h0M115.8 434.4h0M109.0 432.8h0M104.3 432.1h0M119.2 431.3h0M111.6 428.4h0M107.4 426.3h0M111.6 423.6h0M111.6 414.8h0M111.6 408.3h0M107.6 406.0h0M111.6 392.2h0M107.0 391.4h0M111.6 382.2h0M107.4 380.1h0M115.0 379.0h0M111.6 374.4h0M111.6 349.4h0M111.6 327.8h0" stroke="#4c72b0" stroke-width="4.4" stroke-linecap="round" fill="none"/>
<path d="M223.6 458.9h0M223.6 451.6h0M218.9 451.1h0M223.6 445.9h0M223.6 439.9h0M219.7 437.4h0M223.6 431.3h0M218.9 431.2h0M223.6 409.1h0M220.1 406.2h0M223.6 396.6h0M223.6 373.2h0M223.6 345.6h0M223.6 336.2h0M218.9 335.8h0M227.0 333.1h0" stroke="#dd8452" stroke-width="4.4" stroke-linecap="round" fill="none"/>
<path d="M335.7 464.4h0M331.0 463.8h0M340.3 463.6h0M326.5 462.6h0M344.6 461.6h0M349.3 461.4h0M322.2 460.7h0M335.1 459.9h0M330.2 459.4h0M353.5 459.3h0M339.7 458.8h0M318.1 458.4h0M313.4 458.0h0M325.9 457.9h0M345.8 457.3h0M357.3 456.6h0M362.0 456.4h0M335.7 455.3h0M331.0 454.8h0M335.7 447.0h0M331.3 445.3h0M339.5 444.4h0M344.1 443.2h0M327.5 442.6h0M335.7 436.9h0M331.0 436.3h0M340.3 436.1h0M345.0 435.7h0M326.3 435.6h0M349.8 435.6h0M321.6 435.6h0M354.3 434.4h0M317.2 434.0h0M335.7 430.5h0M331.1 429.4h0M340.2 429.1h0M327.0 427.2h0M344.4 427.1h0M322.3 426.9h0M335.7 426.0h0M348.6 425.0h0M335.7 421.0h0M340.4 420.9h0M331.0 420.4h0M344.9 419.6h0M326.6 418.8h0M321.9 418.5h0M337.5 416.9h0M334.0 413.8h0M335.7 404.5h0M331.1 403.6h0M340.2 403.3h0M344.9 402.5h0M326.5 402.5h0M349.1 400.5h0M335.7 400.0h0M335.7 391.4h0M331.0 390.8h0M340.4 390.8h0M345.1 390.6h0M326.3 390.5h0M335.7 386.1h0M335.7 381.6h0M335.7 376.7h0M331.5 374.7h0M338.6 373.2h0M335.7 367.5h0M331.0 366.9h0M335.7 356.9h0M335.7 349.8h0M331.0 349.6h0M340.1 348.1h0M335.7 342.3h0M331.4 340.4h0M335.7 337.7h0M335.7 325.7h0" stroke="#55a868" stroke-width="4.4" stroke-linecap="round" fill="none"/>
<path d="M447.7 473.7h0M443.2 472.5h0M447.7 464.3h0M443.1 463.2h0M452.3 463.0h0M457.0 463.0h0M438.4 462.9h0M461.7 462.6h0M433.8 461.8h0M466.2 461.5h0M429.2 460.7h0M470.8 460.4h0M424.6 460.2h0M446.6 459.9h0M475.5 459.9h0M419.8 459.8h0M480.2 459.5h0M441.1 459.2h0M451.0 458.2h0M455.7 458.2h0M436.6 457.8h0M460.4 457.8h0M432.1 457.1h0M465.0 457.1h0M416.3 456.8h0M427.4 456.3h0M472.5 456.2h0M422.6 456.1h0M483.2 456.0h0M444.3 456.0h0M477.1 455.3h0M447.7 451.2h0M452.4 451.0h0M443.0 450.7h0M438.3 450.7h0M457.1 450.3h0M433.7 449.8h0M461.8 449.6h0M429.0 449.1h0M466.5 449.0h0M424.3 449.0h0M471.2 448.9h0M419.5 448.8h0M475.9 448.8h0M414.8 448.8h0M480.5 447.9h0M410.2 447.9h0M447.7 446.3h0M452.4 445.7h0M443.2 445.0h0M438.5 444.8h0M456.7 443.8h0M461.4 443.4h0M434.1 443.2h0M447.7 441.6h0M443.2 440.4h0M452.0 439.8h0M438.5 439.8h0M456.7 438.9h0M461.3 438.1h0M434.2 437.9h0M429.5 437.9h0M466.0 437.4h0M446.5 437.3h0M424.9 436.7h0M470.6 436.6h0M420.2 436.3h0M475.4 436.3h0M442.0 435.9h0M415.6 435.6h0M453.5 435.5h0M480.0 435.5h0M410.8 435.4h0M484.7 435.1h0M406.1 434.8h0M437.6 434.8h0M457.9 433.9h0M449.2 433.5h0M433.2 433.2h0M462.3 432.3h0M444.7 432.0h0M428.9 431.4h0M454.4 431.1h0M440.1 430.9h0M466.7 430.6h0M424.3 430.4h0M471.4 430.2h0M419.5 430.1h0M476.1 429.9h0M414.8 429.7h0M480.8 429.6h0M458.6 429.5h0M435.7 429.2h0M448.2 429.0h0M410.2 428.8h0M485.4 428.5h0M405.5 428.3h0M490.1 428.1h0M463.0 427.8h0M443.9 427.6h0M431.3 427.6h0M402.9 427.4h0M492.5 427.1h0M452.4 426.9h0M439.4 426.2h0M447.7 424.4h0M455.3 423.4h0M443.2 423.0h0M437.9 421.9h0M459.6 421.5h0M450.6 420.9h0M433.7 419.8h0M464.0 419.7h0M429.0 419.6h0M446.2 419.4h0M441.7 418.8h0M454.7 418.6h0M468.5 418.5h0M424.4 418.4h0M473.2 418.3h0M419.7 418.1h0M477.9 418.0h0M415.0 417.9h0M482.7 417.8h0M410.3 417.7h0M487.4 417.5h0M405.6 417.4h0M492.1 417.3h0M402.9 417.2h0M437.5 417.1h0M459.1 416.9h0M492.5 416.8h0M402.9 416.7h0M492.5 416.6h0M449.7 416.5h0M445.3 414.7h0M453.7 414.1h0M441.2 412.6h0M448.6 411.5h0M457.0 410.9h0M437.5 409.8h0M461.5 409.5h0M444.4 409.3h0M452.6 409.1h0M432.8 408.9h0M466.1 408.6h0M428.1 408.4h0M470.8 408.2h0M423.4 407.9h0M475.5 407.7h0M418.7 407.5h0M480.2 407.3h0M447.7 404.1h0M452.4 403.9h0M443.0 403.7h0M438.3 403.5h0M457.1 403.3h0M461.8 403.1h0M433.6 402.9h0M466.2 401.4h0M429.2 401.3h0M447.7 398.9h0M443.1 398.1h0M451.8 396.6h0M456.5 396.4h0M438.8 396.2h0M461.2 396.0h0M434.1 395.8h0M465.9 395.6h0M429.4 395.3h0M470.6 395.1h0M447.7 394.1h0M451.7 391.7h0M443.9 391.4h0M447.7 387.8h0M453.6 387.6h0M441.8 387.4h0M437.1 387.1h0M458.3 386.9h0M432.4 386.7h0M463.0 386.4h0M427.7 386.2h0M467.7 386.0h0M423.0 385.7h0M447.7 382.6h0M452.4 382.4h0M443.0 382.2h0M438.3 382.0h0M457.1 381.8h0M461.8 381.6h0M433.6 381.5h0M466.6 381.3h0M428.9 381.1h0M471.3 380.9h0M424.2 380.7h0M476.0 380.5h0M446.0 378.4h0M450.7 378.2h0M441.3 378.0h0M455.2 377.7h0M436.6 377.5h0M459.9 377.3h0M431.9 377.0h0M464.6 376.8h0M427.2 376.6h0M469.3 376.3h0M422.9 374.6h0M447.7 373.4h0M452.4 373.1h0M443.0 372.9h0M456.9 371.5h0M439.3 370.1h0M446.6 369.0h0M451.3 368.6h0M460.1 368.2h0M435.2 367.8h0M464.7 367.4h0M455.5 367.1h0M442.5 366.7h0M430.7 366.7h0M469.3 366.3h0M426.0 365.9h0M447.7 362.2h0M452.4 361.6h0M443.4 360.2h0M456.5 359.4h0M439.2 358.3h0M447.7 357.6h0M452.3 356.6h0M460.0 356.4h0M444.1 354.6h0M455.6 353.3h0M448.5 352.8h0M440.2 352.2h0M435.4 352.1h0M459.7 351.1h0M464.4 350.6h0M444.8 350.0h0M451.9 349.7h0M432.2 348.8h0M427.4 348.8h0M437.9 348.3h0M456.1 347.7h0M447.9 346.6h0M443.3 345.5h0M452.0 344.3h0M439.5 342.8h0M446.6 342.3h0M455.2 341.1h0M448.0 338.0h0M443.3 337.5h0M452.6 336.7h0M439.9 334.4h0M447.3 333.5h0M455.5 333.1h0M435.6 332.5h0M450.7 330.3h0M447.7 323.4h0M444.0 320.7h0M447.7 316.1h0M447.7 307.8h0M443.4 305.9h0M447.7 298.8h0M443.0 298.6h0M447.7 293.1h0" stroke="#c44e52" stroke-width="4.4" stroke-linecap="round" fill="none"/>
<path d="M559.7 480.4h0M555.5 478.5h0M559.7 475.8h0M559.7 469.1h0M555.1 468.5h0M564.2 467.5h0M568.9 467.1h0M550.8 466.6h0M546.1 466.0h0M573.4 465.9h0M541.4 465.5h0M557.8 465.0h0M578.0 464.8h0M536.9 464.3h0M582.7 464.2h0M532.1 463.9h0M587.4 463.8h0M527.4 463.7h0M592.1 463.6h0M562.3 463.3h0M522.7 463.2h0M596.8 463.1h0M553.6 463.0h0M567.0 463.0h0M518.0 462.9h0M601.5 462.8h0M514.9 462.7h0M604.5 462.7h0M549.0 462.4h0M514.9 462.1h0M604.5 462.1h0M571.4 461.8h0M544.4 461.6h0M514.9 461.5h0M604.5 461.4h0M514.9 461.2h0M604.5 461.1h0M575.8 460.8h0M558.7 460.4h0M539.9 460.2h0M580.4 460.0h0M535.4 460.0h0M585.0 459.9h0M530.2 459.8h0M589.5 459.7h0M514.9 459.7h0M604.5 459.7h0M525.5 459.7h0M594.2 459.4h0M564.0 459.2h0M520.8 459.1h0M598.9 459.0h0M551.9 458.8h0M516.1 458.8h0M603.5 458.7h0M514.9 458.6h0M604.5 458.4h0M568.6 458.0h0M547.3 457.8h0M514.9 457.7h0M604.5 457.6h0M514.9 457.2h0M573.0 457.1h0M604.5 457.1h0M556.3 456.5h0M542.8 456.4h0M577.6 456.4h0M514.9 456.2h0M538.3 455.9h0M582.3 455.9h0M560.8 455.9h0M533.6 455.8h0M587.1 455.7h0M528.5 455.6h0M591.6 455.6h0M604.5 455.6h0M523.7 455.3h0M596.2 455.3h0M514.9 455.3h0M604.5 455.2h0M514.9 455.1h0M519.0 455.0h0M565.3 454.8h0M600.9 454.7h0M514.9 454.7h0M550.5 454.5h0M604.5 454.5h0M604.5 454.2h0M514.9 454.1h0M569.7 453.6h0M514.9 453.6h0M604.5 453.5h0M546.1 453.2h0M514.9 453.1h0M604.5 453.0h0M574.4 452.8h0M604.5 452.5h0M514.9 452.4h0M554.4 452.4h0M541.1 452.2h0M579.4 452.2h0M604.5 452.2h0M514.9 452.1h0M536.1 451.9h0M584.2 451.8h0M531.6 451.8h0M589.2 451.7h0M558.9 451.7h0M526.4 451.6h0M604.5 451.6h0M593.7 451.4h0M521.7 451.3h0M514.9 451.1h0M598.2 450.9h0M517.0 450.8h0M563.4 450.7h0M602.9 450.6h0M514.9 450.6h0M604.5 450.5h0M550.4 450.0h0M604.5 450.0h0M514.9 449.9h0M514.9 449.6h0M604.5 449.5h0M567.8 449.5h0M514.9 449.0h0M544.3 449.0h0M604.5 449.0h0M572.3 448.8h0M604.5 448.7h0M514.9 448.5h0M576.9 448.3h0M556.1 448.2h0M539.9 447.8h0M581.6 447.8h0M535.2 447.3h0M586.3 447.2h0M560.6 447.0h0M530.6 446.6h0M591.0 446.6h0M525.8 446.5h0M595.7 446.4h0M521.1 446.3h0M600.4 446.2h0M548.0 446.2h0M516.4 446.1h0M604.5 446.0h0M514.9 445.9h0M565.0 445.8h0M604.5 445.5h0M514.9 445.5h0M552.6 445.2h0M569.7 445.0h0M604.5 445.0h0M514.9 444.9h0M604.5 444.7h0M574.4 444.5h0M543.6 444.5h0M514.9 444.3h0M604.5 444.2h0M514.9 444.2h0M579.0 444.0h0M557.4 443.9h0M538.0 443.8h0M583.5 443.6h0M604.5 443.5h0M514.9 443.5h0M604.5 443.2h0M533.3 443.0h0M588.1 442.8h0M514.9 442.7h0M528.3 442.7h0M561.8 442.6h0M592.8 442.5h0M523.6 442.3h0M597.5 442.3h0M549.5 441.7h0M566.6 441.6h0M519.0 441.3h0M602.1 441.3h0M514.9 441.2h0M604.5 441.2h0M571.6 440.9h0M554.1 440.6h0M541.3 440.6h0M604.5 440.5h0M576.2 440.4h0M514.9 440.3h0M514.9 440.2h0M604.5 440.1h0M580.7 439.9h0M558.6 439.3h0M545.6 439.2h0M536.8 439.2h0M585.2 439.2h0M604.5 439.1h0M514.9 439.1h0M531.2 438.9h0M590.1 438.7h0M526.4 438.6h0M595.0 438.5h0M604.5 438.5h0M514.9 438.4h0M563.4 438.3h0M604.5 438.2h0M514.9 437.8h0M522.0 437.8h0M514.9 437.7h0M604.5 437.7h0M599.4 437.6h0M568.2 437.3h0M550.9 437.3h0M517.1 437.2h0M604.1 436.8h0M573.5 436.8h0M514.9 436.8h0M604.5 436.6h0M514.9 436.5h0M578.0 436.2h0M555.5 436.0h0M542.4 436.0h0M604.5 435.8h0M514.9 435.8h0M604.5 435.7h0M514.9 435.6h0M582.6 435.4h0M534.3 435.4h0M560.1 435.0h0M547.0 434.7h0M587.3 434.5h0M529.7 434.4h0M564.7 434.0h0M591.9 433.9h0M525.0 433.9h0M596.7 433.9h0M604.5 433.8h0M514.9 433.8h0M604.5 433.7h0M520.4 433.5h0M538.6 433.5h0M570.4 433.4h0M514.9 433.4h0M601.3 432.9h0M552.2 432.8h0M575.0 432.4h0M515.8 432.4h0M604.5 432.3h0M514.9 432.3h0M579.5 432.0h0M604.5 431.8h0M514.9 431.8h0M557.1 431.5h0M543.8 431.5h0M604.5 431.5h0M514.9 431.4h0M584.2 431.2h0M604.5 431.2h0M532.8 431.1h0M514.9 431.1h0M561.7 430.4h0M548.3 430.3h0M588.6 430.2h0M567.1 430.1h0M528.2 430.1h0M594.3 430.0h0M604.5 429.9h0M523.0 429.8h0M514.9 429.8h0M604.5 429.7h0M514.9 429.7h0M537.2 429.2h0M571.6 428.9h0M598.8 428.6h0M553.8 428.3h0M576.8 428.3h0M518.6 428.2h0M603.5 428.1h0M514.9 428.1h0M604.5 428.1h0M581.3 427.7h0M604.5 427.6h0M541.5 427.5h0M514.9 427.4h0M558.4 427.2h0M604.5 427.1h0M514.9 427.1h0M531.5 426.8h0M514.9 426.7h0M604.5 426.7h0M564.1 426.6h0M585.8 426.6h0M591.3 426.5h0M545.9 426.4h0M526.1 426.0h0M604.5 425.8h0M514.9 425.8h0M604.5 425.7h0M514.9 425.7h0M568.5 425.5h0M550.3 425.3h0M595.6 425.2h0M604.5 425.2h0M514.9 425.1h0M573.7 424.9h0M535.9 424.8h0M521.6 424.8h0M604.5 424.7h0M514.9 424.7h0M600.7 424.5h0M516.5 424.2h0M604.5 424.2h0M514.9 424.1h0M555.3 423.8h0M578.2 423.8h0M604.5 423.7h0M514.9 423.7h0M560.6 423.2h0M543.0 422.9h0M582.8 422.6h0M588.0 422.6h0M530.1 422.5h0M604.5 422.5h0M514.9 422.4h0M565.1 422.2h0M514.9 422.2h0M604.5 422.0h0M592.4 421.9h0M547.4 421.7h0M525.1 421.6h0M514.9 421.6h0M570.5 421.4h0M604.5 421.4h0M538.7 421.1h0M597.3 421.0h0M514.9 420.9h0M604.5 420.9h0M551.9 420.8h0M519.6 420.7h0M575.1 420.5h0M602.8 420.4h0M604.5 420.4h0M534.2 420.4h0M514.9 420.3h0M604.5 420.2h0M514.9 420.1h0M557.6 419.9h0M604.5 419.7h0M514.9 419.5h0M579.4 419.4h0M514.9 419.2h0M604.5 419.2h0M562.0 418.8h0M585.1 418.7h0M544.3 418.3h0M528.6 418.3h0M604.5 418.3h0M589.6 418.2h0M567.2 418.2h0M514.9 418.2h0M604.5 417.9h0M514.9 417.7h0M594.2 417.6h0M523.1 417.5h0M604.5 417.5h0M548.8 417.4h0M604.5 417.2h0M571.6 417.1h0M599.6 417.0h0M514.9 416.9h0M554.2 416.9h0M537.2 416.8h0M518.0 416.5h0M514.9 416.4h0M604.5 416.4h0M576.2 416.1h0M532.7 416.0h0M514.9 416.0h0M604.5 415.9h0M514.9 415.7h0M604.5 415.7h0M581.9 415.6h0M558.8 415.4h0M514.9 415.2h0M604.5 415.1h0M541.3 414.9h0M563.2 414.5h0M586.6 414.4h0M526.3 414.3h0M604.5 414.2h0M514.9 414.1h0M568.3 413.8h0M546.0 413.8h0M591.3 413.7h0M604.5 413.7h0M596.4 413.6h0M551.1 413.4h0M514.9 413.4h0M521.8 413.2h0M604.5 413.0h0M572.9 412.7h0M601.0 412.6h0M536.5 412.3h0M516.2 412.3h0M555.7 412.2h0M578.5 412.1h0M530.4 412.1h0M604.5 412.0h0M514.9 411.9h0M514.9 411.7h0M604.5 411.6h0M583.3 411.3h0M604.5 411.2h0M560.2 411.0h0M514.9 411.0h0M514.9 410.7h0M604.5 410.7h0M542.8 410.6h0M565.2 410.4h0M588.4 410.2h0M514.9 410.2h0M548.3 409.9h0M593.7 409.9h0M526.4 409.8h0M604.5 409.7h0M514.9 409.6h0M569.6 409.4h0M519.9 409.1h0M598.3 408.9h0M575.3 408.8h0M533.5 408.8h0M604.5 408.8h0M514.9 408.8h0M552.9 408.6h0M604.5 408.6h0M514.9 408.5h0M538.6 408.3h0M603.0 408.3h0M515.0 408.0h0M580.3 407.9h0M604.5 407.8h0M514.9 407.6h0M604.5 407.6h0M557.5 407.3h0M604.5 407.2h0M584.9 407.0h0M562.0 406.9h0M514.9 406.9h0M514.9 406.7h0M545.2 406.6h0M604.5 406.5h0M529.5 406.4h0M590.8 406.4h0M523.5 406.2h0M566.6 406.0h0M514.9 405.9h0M604.5 405.9h0M571.7 405.4h0M549.5 405.4h0M595.4 405.2h0M604.5 405.2h0M554.2 404.1h0M576.2 404.0h0M541.4 403.9h0M536.7 403.8h0M581.6 403.6h0M599.7 403.5h0M519.9 403.3h0M515.2 403.3h0M604.5 403.3h0M559.4 403.2h0M587.3 403.2h0M514.9 403.1h0M604.5 403.0h0M526.7 402.8h0M532.1 402.6h0M514.9 402.6h0M604.5 402.4h0M564.0 402.1h0M546.3 402.1h0M568.7 401.9h0M591.8 401.9h0M604.5 401.8h0M514.9 401.4h0M604.5 401.2h0M514.9 401.2h0M550.9 400.9h0M573.1 400.6h0M596.2 400.6h0M514.9 400.6h0M604.5 400.5h0M514.9 400.2h0M578.6 400.1h0M556.2 399.9h0M539.2 399.9h0M584.1 399.8h0M523.4 399.6h0M604.5 399.6h0M601.8 399.5h0M518.1 399.2h0M560.7 398.8h0M534.7 398.7h0M588.5 398.7h0M530.1 398.6h0M514.9 398.5h0M543.7 398.4h0M604.5 398.4h0M566.1 398.1h0M514.9 398.0h0M604.5 398.0h0M604.5 397.4h0M592.8 397.4h0M548.1 397.3h0M514.9 397.2h0M604.5 397.2h0M552.8 396.8h0M570.6 396.8h0M575.3 396.7h0M598.2 396.5h0M604.5 396.5h0M581.0 396.2h0M514.9 396.2h0M604.5 396.1h0M526.3 395.9h0M557.4 395.5h0M538.1 395.5h0M521.6 395.4h0M604.5 395.3h0M585.5 395.2h0M602.7 395.0h0M516.4 395.0h0M562.9 394.7h0M532.5 394.7h0M514.9 394.5h0M604.5 394.4h0M604.5 394.2h0M514.9 394.1h0M544.9 394.0h0M590.0 393.8h0M604.5 393.7h0M514.9 393.6h0M567.3 393.6h0M594.8 393.4h0M550.1 393.2h0M604.5 392.9h0M577.8 392.9h0M514.9 392.9h0M572.8 392.8h0M604.5 392.7h0M514.9 392.5h0M528.8 392.1h0M554.7 391.9h0M582.3 391.9h0M540.9 391.8h0M524.3 391.8h0M599.2 391.7h0M604.5 391.7h0M514.9 391.7h0M559.6 391.5h0M536.0 391.5h0M519.7 391.0h0M604.5 391.0h0M514.9 390.8h0M514.9 390.7h0M586.7 390.6h0M604.5 390.5h0M564.0 390.3h0M514.9 390.2h0M604.5 390.2h0M546.9 390.0h0M591.9 389.8h0M569.5 389.7h0M514.9 389.6h0M604.5 389.6h0M514.9 389.2h0M604.5 389.2h0M575.4 389.0h0M551.3 388.8h0M532.2 388.8h0M514.9 388.4h0M604.5 388.4h0M556.9 387.8h0M542.9 387.8h0M579.9 387.7h0M527.7 387.7h0M538.3 387.5h0M595.9 387.4h0M523.0 387.3h0M600.7 387.3h0M604.5 387.2h0M514.9 387.2h0M517.3 387.2h0M514.9 386.7h0M584.3 386.7h0M561.4 386.6h0M566.1 386.3h0M589.0 386.3h0M514.9 386.2h0M572.0 385.9h0M604.5 385.8h0M604.5 385.7h0M548.1 385.5h0M514.9 385.5h0M514.9 385.2h0M604.5 385.1h0M534.6 384.9h0M553.5 384.8h0M604.5 384.7h0M576.5 384.5h0M514.9 384.5h0M604.5 384.2h0M514.9 384.1h0M592.9 384.0h0M530.1 383.9h0M540.7 383.8h0M520.3 383.6h0M525.6 383.6h0M603.3 383.6h0M514.9 383.5h0M558.1 383.5h0M598.2 383.5h0M604.5 383.4h0M581.1 383.3h0M515.6 382.8h0M568.9 382.6h0M563.4 382.5h0M585.8 382.4h0M604.5 382.4h0M514.9 382.4h0M604.5 382.2h0M545.0 382.1h0M514.9 382.1h0M604.5 381.7h0M514.9 381.6h0M550.3 381.5h0M573.3 381.3h0M514.9 381.2h0M604.5 381.2h0M537.1 380.9h0M514.9 380.7h0M604.5 380.6h0M554.7 380.4h0M590.0 380.4h0M577.8 380.2h0M532.6 380.1h0M595.2 380.0h0M527.9 379.7h0M523.2 379.7h0M600.7 379.7h0M514.9 379.6h0M560.1 379.4h0M541.5 379.3h0M518.5 379.2h0M604.5 379.2h0M514.9 379.1h0M582.5 379.0h0M566.2 378.8h0M514.9 378.7h0M604.5 378.7h0M604.5 378.2h0M547.2 378.1h0M514.9 377.9h0M570.6 377.6h0M604.5 377.4h0M514.9 377.4h0M586.7 377.2h0M514.9 377.1h0M551.8 377.0h0M604.5 376.9h0M514.9 376.7h0M575.0 376.6h0M536.2 376.5h0M592.1 376.4h0M604.5 376.4h0M556.7 376.3h0M597.5 376.1h0M514.9 376.1h0M604.5 376.0h0M530.9 375.9h0M525.6 375.8h0M562.6 375.6h0M579.5 375.5h0M521.1 375.4h0M602.0 375.3h0M543.7 375.3h0M516.5 375.1h0M604.5 375.0h0M514.9 374.7h0M604.5 374.6h0M567.1 374.3h0M604.5 374.1h0M514.9 373.9h0M548.6 373.7h0M583.7 373.7h0M604.5 373.6h0M514.9 373.5h0M539.6 373.3h0M571.7 373.2h0M588.8 373.1h0M514.9 373.1h0M553.8 372.8h0M514.9 372.7h0M559.5 372.2h0M576.3 372.1h0M535.1 372.0h0M528.6 371.9h0M593.3 371.9h0M598.9 371.8h0M523.7 371.6h0M604.5 371.6h0M514.9 371.4h0M519.0 371.2h0M603.5 371.1h0M564.0 370.9h0M545.0 370.8h0M514.9 370.7h0M604.5 370.5h0M580.5 370.4h0M604.5 370.1h0M514.9 370.1h0M568.5 369.9h0M514.9 369.7h0M550.7 369.4h0M585.1 369.3h0M604.5 369.3h0M556.4 368.8h0M573.0 368.6h0M540.9 368.5h0M533.1 367.9h0M560.6 366.7h0M547.0 366.6h0M565.3 366.4h0M577.0 366.2h0M581.7 366.0h0M588.2 365.9h0M537.3 365.7h0M529.1 365.6h0M553.1 365.5h0M592.9 365.4h0M569.7 365.3h0M524.4 365.2h0M597.5 364.6h0M519.7 364.5h0M542.9 364.4h0M602.2 364.2h0M515.0 363.9h0M604.5 363.8h0M557.4 363.4h0M533.3 363.4h0M514.9 363.3h0M604.5 363.2h0M573.7 363.0h0M549.4 362.8h0M514.9 362.8h0M562.7 362.7h0M584.6 362.4h0M579.1 362.2h0M514.9 362.2h0M567.2 361.6h0M539.7 361.1h0M589.1 361.0h0M529.3 360.9h0M553.7 360.7h0M545.3 360.5h0M593.8 360.5h0M524.6 360.5h0M599.4 360.4h0M604.5 360.4h0M514.9 360.4h0M518.1 360.2h0M604.2 360.1h0M604.5 359.8h0M514.9 359.8h0M514.9 359.7h0M604.5 359.5h0M559.7 359.0h0M570.9 358.8h0M575.6 358.6h0M581.7 358.5h0M536.0 358.3h0M549.7 358.2h0M564.2 358.1h0M514.9 358.0h0M604.5 358.0h0M514.9 357.7h0M604.5 357.7h0M542.2 357.2h0M586.2 357.2h0M521.7 357.0h0M531.7 357.0h0M591.1 356.9h0M596.4 356.8h0M527.2 356.7h0M555.8 356.7h0M604.5 356.6h0M601.5 356.5h0M514.9 356.3h0M517.0 355.9h0M604.5 355.8h0M567.7 355.0h0M561.2 354.7h0M546.8 354.7h0M572.8 354.6h0M577.8 354.6h0M538.4 354.5h0M514.9 354.4h0M552.0 354.2h0M582.4 354.0h0M604.5 353.8h0M514.9 353.7h0M534.0 352.9h0M587.6 352.9h0M542.7 352.7h0M529.3 352.6h0M592.3 352.5h0M557.2 352.3h0M524.6 352.2h0M597.0 352.0h0M564.2 351.3h0M520.0 351.1h0M569.8 351.0h0M550.2 350.1h0M574.3 349.7h0M545.6 349.0h0M560.3 348.9h0M579.0 348.8h0M540.4 348.8h0M554.7 348.5h0M583.7 348.5h0M535.7 348.1h0M588.3 347.8h0M531.0 347.7h0M566.4 347.3h0M593.0 347.2h0M526.3 347.2h0M597.8 347.1h0M571.0 346.5h0M521.7 346.1h0M551.1 345.6h0M602.2 345.5h0M575.6 345.3h0M543.1 345.2h0M517.1 345.2h0M557.9 345.1h0M562.4 344.9h0M604.5 344.8h0M581.0 344.8h0M514.9 344.7h0M604.5 344.6h0M538.6 344.5h0M585.5 344.2h0M604.5 344.1h0M514.9 344.1h0M533.9 343.9h0M514.9 343.7h0M590.2 343.3h0M529.2 343.2h0M566.6 342.8h0M554.3 342.3h0M547.9 342.3h0M594.8 342.2h0M572.2 342.1h0M524.7 342.1h0M604.5 342.0h0M599.3 342.0h0M514.9 341.8h0M520.1 341.8h0M604.5 341.7h0M514.9 341.6h0M577.5 341.2h0M559.7 340.7h0M543.7 340.2h0M539.0 339.9h0M582.0 339.8h0M586.7 339.6h0M533.2 339.5h0M603.1 339.3h0M516.3 339.2h0M564.1 338.8h0M551.5 338.7h0M568.7 338.2h0M556.2 337.7h0M573.4 337.4h0M529.0 337.3h0M590.7 337.2h0M547.3 337.2h0M524.3 337.1h0M578.0 336.4h0M595.3 336.3h0M560.5 335.9h0M542.9 335.3h0M538.2 335.3h0M582.6 335.3h0M520.0 335.2h0M599.9 335.2h0M604.5 335.0h0M514.9 335.0h0M533.5 334.8h0M564.9 334.3h0M553.1 334.3h0M570.3 334.0h0M587.1 333.9h0M604.5 333.5h0M514.9 333.5h0M526.9 333.3h0M574.8 333.1h0M514.9 333.1h0M548.8 332.9h0M591.6 332.8h0M604.5 332.7h0M514.9 332.6h0M557.5 332.5h0M604.5 332.2h0M579.4 331.8h0M596.3 331.8h0M514.9 331.8h0M604.5 331.7h0M514.9 331.6h0M540.5 331.5h0M522.6 331.4h0M517.6 331.4h0M602.1 331.2h0M604.5 331.1h0M561.7 331.0h0M535.9 330.9h0M531.4 330.8h0M583.8 330.7h0M514.9 330.6h0M567.3 330.4h0M544.9 330.3h0M604.5 330.2h0M514.9 330.1h0M552.1 329.9h0M571.9 329.6h0M588.3 329.5h0M604.5 329.4h0M514.9 329.3h0M576.4 328.3h0M556.5 328.1h0M527.7 328.0h0M592.7 327.8h0M598.1 327.7h0M520.3 327.5h0M604.5 327.4h0M548.3 327.2h0M564.0 327.1h0M541.8 326.9h0M580.8 326.8h0M537.3 326.6h0M532.7 326.5h0M602.6 326.3h0M568.8 326.2h0M553.0 325.1h0M559.7 323.7h0M572.7 323.7h0M564.3 322.4h0M549.3 322.2h0M544.7 321.5h0M555.8 321.3h0M568.8 321.0h0M575.6 320.1h0M559.7 318.3h0M552.3 318.2h0M564.4 317.8h0M571.7 317.5h0M547.7 317.2h0M543.0 316.9h0M578.5 316.6h0M538.3 316.2h0M583.2 315.9h0M556.1 315.6h0M533.7 315.3h0M587.8 315.0h0M567.8 314.7h0M529.1 314.3h0M560.0 313.1h0M556.2 310.4h0M563.5 310.0h0M559.7 306.7h0M555.1 305.9h0M563.3 303.8h0" stroke="#8172b3" stroke-width="4.4" stroke-linecap="round" fill="none"/>
<path d="M671.8 505.3h0M671.8 500.3h0M671.8 478.1h0M668.4 475.0h0M673.3 473.8h0M677.8 472.3h0M665.9 471.1h0M671.3 469.7h0M675.8 468.2h0M680.5 468.0h0M662.5 468.0h0M685.2 467.9h0M657.8 467.9h0M689.9 467.9h0M653.1 467.9h0M694.7 467.8h0M648.4 467.7h0M699.4 467.6h0M643.6 467.5h0M704.1 467.4h0M638.9 467.4h0M708.8 467.2h0M634.2 467.2h0M713.5 467.2h0M629.5 467.1h0M716.6 467.1h0M627.0 467.1h0M667.7 467.0h0M627.0 466.7h0M716.6 466.7h0M627.0 466.2h0M716.6 466.2h0M716.6 465.5h0M627.0 465.4h0M672.2 465.3h0M716.6 465.2h0M627.0 465.1h0M716.6 464.7h0M627.0 464.7h0M627.0 464.2h0M677.8 464.1h0M682.7 464.1h0M660.3 464.1h0M687.5 464.0h0M655.6 464.0h0M692.2 463.8h0M651.0 463.8h0M696.7 463.8h0M716.6 463.7h0M646.1 463.7h0M701.3 463.5h0M664.8 463.5h0M641.5 463.5h0M706.2 463.3h0M637.0 463.3h0M710.9 463.2h0M632.3 463.1h0M715.6 463.0h0M627.8 462.9h0M716.6 462.8h0M627.0 462.8h0M716.6 462.7h0M627.0 462.5h0M627.0 462.2h0M716.6 462.1h0M669.2 462.0h0M627.0 461.6h0M716.6 461.6h0M674.3 461.3h0M716.6 461.2h0M627.0 461.1h0M627.0 460.7h0M716.6 460.6h0M680.2 460.3h0M627.0 460.2h0M684.9 460.2h0M658.2 460.1h0M689.6 460.0h0M716.6 460.0h0M653.5 459.9h0M694.2 459.8h0M648.7 459.7h0M698.8 459.7h0M662.7 459.4h0M644.0 459.3h0M703.5 459.3h0M639.3 459.2h0M708.2 459.2h0M634.6 459.1h0M712.7 459.0h0M716.6 459.0h0M630.0 458.9h0M627.0 458.8h0M627.0 458.7h0M716.6 458.5h0M716.6 458.2h0M627.0 458.0h0M667.0 458.0h0M716.6 457.7h0M671.7 457.6h0M627.0 457.5h0M676.2 457.2h0M716.6 457.1h0M627.0 457.0h0M716.6 456.7h0M627.0 456.7h0M682.4 456.3h0M687.1 456.2h0M656.1 456.0h0M716.6 456.0h0M691.7 456.0h0M651.4 455.7h0M696.5 455.7h0M627.0 455.7h0M646.8 455.7h0M716.6 455.6h0M701.0 455.5h0M660.6 455.4h0M641.9 455.3h0M705.5 455.2h0M637.2 455.2h0M710.0 455.0h0M632.5 454.9h0M714.6 454.9h0M627.9 454.9h0M716.6 454.8h0M627.0 454.7h0M716.6 454.6h0M716.6 454.2h0M627.0 454.2h0M664.9 453.9h0M716.6 453.7h0M627.0 453.7h0M673.6 453.4h0M678.8 453.4h0M716.6 453.2h0M627.0 453.1h0M627.0 452.6h0M716.6 452.5h0M684.5 452.3h0M689.2 452.2h0M716.6 452.2h0M669.2 452.1h0M627.0 452.0h0M654.0 452.0h0M693.8 451.9h0M649.2 451.7h0M627.0 451.7h0M716.6 451.7h0M644.6 451.7h0M698.5 451.6h0M639.7 451.4h0M658.6 451.3h0M703.1 451.3h0M716.6 451.2h0M635.0 451.1h0M707.8 451.0h0M712.3 450.9h0M630.3 450.8h0M627.0 450.8h0M716.6 450.7h0M627.0 450.7h0M627.0 450.2h0M716.6 450.2h0M662.9 449.9h0M675.9 449.5h0M627.0 449.5h0M680.9 449.4h0M716.6 449.2h0M627.0 449.1h0M627.0 448.7h0M716.6 448.7h0M686.7 448.4h0M671.4 448.1h0M691.4 448.1h0M651.8 448.0h0M716.6 447.9h0M627.0 447.9h0M696.0 447.8h0M647.1 447.7h0M642.4 447.7h0M627.0 447.6h0M666.9 447.5h0M700.6 447.5h0M716.6 447.5h0M656.5 447.3h0M705.2 447.3h0M637.7 447.2h0M716.6 447.2h0M709.8 446.9h0M633.0 446.8h0M714.5 446.8h0M628.2 446.8h0M716.6 446.7h0M627.0 446.7h0M716.6 446.1h0M627.0 446.0h0M661.2 445.7h0M678.2 445.6h0M627.0 445.6h0M683.1 445.4h0M716.6 445.4h0M627.0 445.2h0M716.6 445.2h0M627.0 444.7h0M716.6 444.7h0M688.7 444.3h0M673.9 444.3h0M716.6 444.2h0M627.0 444.1h0M693.3 444.0h0M649.8 443.9h0M644.8 443.8h0M669.3 443.7h0M697.8 443.7h0M716.6 443.6h0M627.0 443.6h0M654.3 443.3h0M702.5 443.1h0M664.9 442.9h0M640.1 442.8h0M707.2 442.8h0M635.4 442.7h0M712.0 442.7h0M630.7 442.5h0M716.6 442.4h0M627.0 442.3h0M716.6 442.2h0M627.0 442.1h0M658.6 441.9h0M716.6 441.7h0M627.0 441.7h0M680.5 441.7h0M685.1 441.4h0M716.6 441.2h0M627.0 441.1h0M716.6 440.7h0M627.0 440.6h0M675.9 440.2h0M690.5 440.2h0M695.3 439.9h0M648.1 439.7h0M671.3 439.6h0M716.6 439.6h0M643.3 439.5h0M699.8 439.5h0M627.0 439.5h0M627.0 439.2h0M662.5 439.0h0M655.2 438.8h0M704.4 438.8h0M638.2 438.7h0M709.1 438.7h0M633.5 438.7h0M713.7 438.5h0M629.0 438.3h0M716.6 438.3h0M627.0 438.3h0M627.0 438.1h0M716.6 438.1h0M667.0 437.9h0M716.6 437.7h0M682.5 437.6h0M627.0 437.6h0M687.1 437.3h0M627.0 437.2h0M716.6 437.2h0M716.6 436.7h0M627.0 436.7h0M651.3 436.5h0M678.2 436.2h0M627.0 436.2h0M658.9 436.1h0M692.6 436.1h0M716.6 436.0h0M673.7 435.7h0M697.2 435.7h0M645.9 435.7h0M716.6 435.7h0M627.0 435.7h0M641.3 435.3h0M701.6 435.2h0M716.6 435.0h0M627.0 434.9h0M706.3 434.7h0M663.7 434.7h0M636.7 434.4h0M711.1 434.3h0M632.0 434.2h0M715.8 434.0h0M669.4 433.9h0M627.3 433.8h0M716.6 433.8h0M655.1 433.8h0M627.0 433.7h0M716.6 433.7h0M684.5 433.6h0M689.2 433.0h0M627.0 433.0h0M716.6 432.9h0M627.0 432.7h0M716.6 432.7h0M649.3 432.4h0M716.6 432.2h0M680.0 432.1h0M627.0 432.1h0M694.5 432.0h0M675.5 431.6h0M660.3 431.6h0M644.1 431.6h0M716.6 431.5h0M699.1 431.4h0M627.0 431.2h0M703.8 430.8h0M666.1 430.8h0M639.5 430.7h0M708.4 430.6h0M716.6 430.5h0M627.0 430.5h0M634.5 430.4h0M713.1 430.3h0M629.8 429.9h0M671.3 429.9h0M716.6 429.8h0M653.1 429.7h0M627.0 429.6h0M716.6 429.5h0M686.3 429.4h0M627.0 429.1h0M691.2 428.9h0M716.6 428.8h0M627.0 428.7h0M716.6 428.6h0M647.4 428.3h0M716.6 428.2h0M627.0 428.2h0M682.0 428.0h0M657.5 427.9h0M662.7 427.7h0M695.7 427.5h0M716.6 427.5h0M676.3 427.1h0M700.6 427.1h0M642.9 427.1h0M627.0 427.1h0M716.6 426.9h0M668.1 426.6h0M705.4 426.6h0M638.4 426.3h0M710.1 426.2h0M632.9 426.2h0M715.0 426.2h0M627.0 426.1h0M716.6 426.1h0M627.6 425.9h0M627.0 425.7h0M651.1 425.6h0M716.6 425.5h0M688.4 425.4h0M627.0 425.2h0M716.6 425.1h0M672.3 424.9h0M716.6 424.7h0M627.0 424.7h0M627.0 424.2h0M679.7 424.1h0M659.9 424.0h0M692.7 424.0h0M716.6 424.0h0M655.3 423.9h0M646.5 423.9h0M627.0 423.7h0M664.6 423.5h0M697.7 423.5h0M684.2 423.3h0M716.6 423.3h0M716.6 423.2h0M627.0 423.1h0M702.5 423.0h0M641.8 422.7h0M707.4 422.5h0M635.9 422.5h0M627.0 422.4h0M716.6 422.4h0M712.5 422.4h0M630.5 422.3h0M716.6 422.2h0M627.0 422.1h0M675.6 421.8h0M669.0 421.8h0M627.0 421.7h0M716.6 421.6h0M650.4 421.1h0M716.6 421.1h0M627.0 421.1h0M688.0 420.7h0M627.0 420.7h0M716.6 420.6h0M627.0 420.1h0M716.6 420.1h0M657.7 420.1h0M694.7 419.9h0M681.1 419.8h0M627.0 419.7h0M662.2 419.7h0M716.6 419.7h0M645.2 419.5h0M699.7 419.4h0M716.6 419.2h0M639.0 419.0h0M704.5 419.0h0M627.0 418.9h0M672.3 418.7h0M709.8 418.7h0M633.6 418.5h0M627.0 418.5h0M716.6 418.4h0M714.5 418.1h0M628.9 418.1h0M716.6 418.1h0M666.6 417.9h0M653.7 417.8h0M627.0 417.7h0M677.2 417.6h0M716.6 417.5h0M684.9 417.3h0M691.0 417.2h0M716.6 417.1h0M627.0 417.1h0M648.9 416.9h0M716.6 416.7h0M627.0 416.6h0M627.0 416.0h0M716.6 416.0h0M659.6 415.9h0M696.6 415.8h0M642.6 415.8h0M627.0 415.7h0M716.6 415.6h0M701.4 415.2h0M716.6 415.2h0M636.7 415.1h0M706.9 415.0h0M680.9 415.0h0M627.0 414.9h0M669.9 414.8h0M627.0 414.6h0M711.6 414.5h0M716.6 414.5h0M631.6 414.5h0M663.8 414.2h0M627.0 414.2h0M716.6 414.1h0M674.5 413.9h0M687.8 413.8h0M716.6 413.7h0M627.0 413.7h0M655.6 413.6h0M692.4 412.8h0M651.0 412.6h0M646.2 412.5h0M627.0 412.4h0M716.6 412.2h0M627.0 412.2h0M640.1 411.9h0M698.5 411.7h0M716.6 411.7h0M683.9 411.5h0M704.1 411.5h0M660.2 411.4h0M627.0 411.4h0M678.3 411.2h0M627.0 411.2h0M667.4 411.0h0M635.0 410.9h0M708.7 410.9h0M716.6 410.7h0M713.7 410.5h0M629.3 410.5h0M627.0 410.5h0M716.6 410.2h0M671.8 410.2h0M627.0 410.2h0M627.0 409.7h0M716.6 409.6h0M688.9 409.4h0M654.1 409.4h0M716.6 409.2h0M627.0 409.2h0M694.8 408.9h0M643.5 408.8h0M716.6 408.7h0M627.0 408.7h0M648.7 408.7h0M663.6 408.3h0M716.6 408.2h0M627.0 408.1h0M681.2 407.7h0M700.7 407.7h0M638.8 407.6h0M716.6 407.6h0M675.5 407.5h0M627.0 407.5h0M658.2 407.4h0M705.9 407.4h0M716.6 407.2h0M632.5 407.1h0M627.0 407.1h0M710.9 407.0h0M668.8 406.7h0M716.6 406.6h0M627.0 406.6h0M627.3 406.5h0M715.5 406.4h0M685.6 406.1h0M627.0 406.1h0M716.6 406.0h0M691.5 405.7h0M716.6 405.7h0M627.0 405.6h0M652.3 405.2h0M627.0 405.1h0M716.6 405.1h0M646.0 405.0h0M696.9 404.9h0M716.6 404.6h0M627.0 404.6h0M661.8 404.2h0M672.5 404.1h0M635.8 404.1h0M678.4 404.1h0M641.5 404.0h0M716.6 403.9h0M703.0 403.8h0M627.0 403.7h0M716.6 403.6h0M708.0 403.3h0M656.5 403.2h0M630.4 403.1h0M627.0 403.1h0M666.3 402.8h0M712.7 402.8h0M716.6 402.8h0M627.0 402.7h0M716.6 402.7h0M682.8 402.6h0M688.2 402.4h0M627.0 402.2h0M716.6 402.1h0M693.6 401.7h0M649.4 401.7h0M716.6 401.6h0M627.0 401.6h0M627.0 401.2h0M716.6 401.2h0M699.4 401.1h0M716.6 400.7h0M644.9 400.7h0M675.3 400.5h0M638.6 400.5h0M627.0 400.5h0M670.3 400.1h0M660.0 400.0h0M634.0 400.0h0M627.0 399.9h0M716.6 399.8h0M653.5 399.8h0M705.2 399.8h0M627.0 399.5h0M716.6 399.4h0M627.0 399.2h0M679.6 399.2h0M709.8 399.0h0M628.8 398.9h0M716.6 398.9h0M664.3 398.8h0M685.3 398.8h0M714.7 398.8h0M627.0 398.7h0M716.6 398.5h0M690.3 398.4h0M716.6 398.2h0M627.0 398.2h0M696.1 397.9h0M716.6 397.6h0M648.0 397.4h0M641.9 397.2h0M627.0 397.2h0M716.6 397.2h0M701.2 396.9h0M656.9 396.6h0M716.6 396.6h0M673.0 396.5h0M636.9 396.3h0M627.0 396.3h0M668.3 396.1h0M632.1 395.8h0M716.6 395.7h0M627.0 395.7h0M706.8 395.5h0M682.1 395.4h0M677.4 395.2h0M661.5 395.1h0M652.5 395.0h0M711.8 394.9h0M627.0 394.9h0M716.6 394.8h0M687.4 394.7h0M716.6 394.7h0M693.0 394.7h0M627.0 394.4h0M627.0 394.2h0M716.6 394.1h0M645.1 393.9h0M697.9 393.8h0M716.6 393.7h0M627.0 393.6h0M627.0 393.2h0M716.6 393.2h0M640.2 393.0h0M703.1 392.8h0M627.0 392.7h0M716.6 392.6h0M665.3 392.6h0M671.1 392.4h0M658.1 392.1h0M635.4 392.0h0M627.0 392.0h0M716.6 392.0h0M649.3 391.8h0M630.2 391.7h0M627.0 391.6h0M716.6 391.6h0M708.7 391.4h0M679.8 391.3h0M684.5 391.2h0M690.1 391.1h0M716.6 391.0h0M627.0 391.0h0M714.0 390.9h0M627.0 390.6h0M675.1 390.4h0M653.8 390.2h0M694.7 389.9h0M627.0 389.8h0M643.3 389.7h0M699.9 389.7h0M716.6 389.7h0M627.0 389.6h0M661.9 389.5h0M716.6 389.2h0M627.0 389.2h0M668.1 389.0h0M638.7 388.8h0M704.7 388.6h0M716.6 388.6h0M627.0 388.5h0M633.3 388.0h0M627.0 387.8h0M627.0 387.7h0M647.4 387.7h0M657.7 387.6h0M687.0 387.4h0M710.8 387.4h0M682.1 387.3h0M716.6 387.3h0M627.0 387.1h0M716.6 387.1h0M672.2 386.9h0M716.6 386.7h0M627.0 386.7h0M677.6 386.5h0M691.6 386.4h0M629.0 386.4h0M651.7 386.2h0M715.4 386.2h0M627.0 386.2h0M716.6 386.1h0M697.1 386.0h0M664.7 385.8h0M627.0 385.7h0M716.6 385.6h0M641.8 385.4h0M701.5 385.3h0M627.0 385.2h0M716.6 385.2h0M636.7 384.7h0M707.0 384.6h0M716.6 384.6h0M627.0 384.5h0M660.5 384.0h0M668.9 383.7h0M684.6 383.6h0M655.7 383.5h0M646.2 383.3h0M632.4 383.3h0M627.0 383.2h0M716.6 383.2h0M674.6 383.0h0M712.0 383.0h0M679.8 382.5h0M689.2 382.5h0M693.8 382.4h0M627.0 382.4h0M716.6 382.4h0M716.6 382.1h0M627.0 382.0h0M650.8 381.8h0M698.6 381.7h0M716.6 381.7h0M627.0 381.7h0M639.9 381.4h0M703.8 381.3h0M664.3 381.3h0M716.6 381.2h0M627.0 380.8h0M627.0 380.6h0M716.6 380.6h0M708.2 380.3h0M627.0 380.0h0M716.6 380.0h0M658.6 379.9h0M671.3 379.8h0M635.5 379.7h0M627.0 379.6h0M716.6 379.5h0M682.9 379.2h0M676.8 379.1h0M644.6 379.1h0M630.9 378.7h0M687.4 378.3h0M654.3 378.0h0M692.1 377.8h0M667.3 377.8h0M700.8 377.8h0M712.1 377.7h0M627.0 377.7h0M649.2 377.6h0M716.6 377.5h0M662.3 377.3h0M716.6 377.2h0M627.0 377.2h0M639.1 376.9h0M705.3 376.8h0M627.0 376.7h0M716.6 376.7h0M696.4 376.1h0M673.6 375.8h0M716.6 375.8h0M679.9 375.8h0M627.0 375.7h0M716.6 375.7h0M634.2 375.4h0M658.1 375.4h0M627.0 375.2h0M716.6 375.2h0M684.4 374.9h0M643.4 374.7h0M716.6 374.7h0M627.0 374.7h0M629.6 374.4h0M709.1 374.3h0M716.6 374.2h0M689.4 374.2h0M627.0 374.1h0M652.1 374.0h0M669.5 373.8h0M714.2 373.7h0M627.0 373.7h0M665.0 373.6h0M716.6 373.5h0M702.2 373.5h0M716.6 373.2h0M627.0 373.2h0M647.7 373.0h0M716.6 372.7h0M627.0 372.7h0M637.8 372.6h0M676.6 372.4h0M693.6 372.2h0M627.0 372.1h0M716.6 372.1h0M660.8 371.6h0M627.0 371.6h0M681.2 371.4h0M656.1 371.4h0M698.0 371.3h0M716.6 371.2h0M627.0 371.2h0M633.5 371.0h0M706.0 370.9h0M686.3 370.7h0M716.6 370.7h0M627.0 370.6h0M641.8 370.5h0M672.4 370.3h0M711.1 370.2h0M628.0 370.2h0M627.0 370.2h0M716.6 370.2h0M667.5 369.8h0M627.0 369.7h0M716.3 369.7h0M651.1 369.6h0M716.6 369.2h0M627.0 369.1h0M690.4 368.9h0M646.0 368.8h0M701.8 368.8h0M627.0 368.6h0M716.6 368.5h0M627.0 368.2h0M716.6 368.2h0M678.1 368.1h0M637.8 368.0h0M663.3 367.8h0M695.0 367.7h0M716.6 367.7h0M658.8 367.5h0M627.0 367.5h0M683.1 367.3h0M631.4 366.9h0M716.6 366.9h0M627.0 366.9h0M708.0 366.9h0M627.0 366.6h0M716.6 366.4h0M654.4 366.4h0M670.7 366.2h0M713.1 366.1h0M716.6 366.1h0M627.0 366.1h0M642.3 366.0h0M716.6 365.7h0M627.0 365.7h0M649.1 365.6h0M687.4 365.3h0M698.9 365.2h0M716.6 365.1h0M704.0 364.7h0M675.0 364.7h0M627.0 364.6h0M716.6 364.6h0M666.5 364.4h0M691.8 364.4h0M635.3 364.3h0M716.6 364.1h0M627.0 364.1h0M679.9 363.9h0M661.4 363.7h0M716.6 363.7h0M627.0 363.6h0M628.7 363.3h0M716.6 363.2h0M627.0 363.0h0M645.5 362.7h0M657.0 362.6h0M639.5 362.4h0M652.2 362.3h0M708.0 362.3h0M627.0 362.3h0M716.6 362.2h0M684.0 362.1h0M627.0 362.1h0M695.6 362.0h0M671.4 361.7h0M716.6 361.7h0M712.6 361.6h0M627.0 361.5h0M701.0 361.2h0M716.6 361.2h0M627.0 361.2h0M688.6 361.0h0M632.5 360.6h0M676.9 360.6h0M627.0 360.5h0M716.6 360.5h0M664.8 360.2h0M627.0 360.2h0M716.6 360.1h0M716.6 359.7h0M660.2 359.3h0M648.8 359.2h0M627.0 359.2h0M716.6 359.2h0M642.8 359.1h0M704.9 358.9h0M636.6 358.9h0M681.1 358.6h0M655.1 358.6h0M692.5 358.4h0M627.0 358.4h0M716.6 358.3h0M627.0 358.2h0M716.6 358.2h0M709.5 358.1h0M668.9 357.9h0M697.4 357.8h0M627.0 357.7h0M716.6 357.7h0M673.4 357.6h0M685.7 357.4h0M716.6 357.2h0M627.0 357.1h0M716.6 356.7h0M627.0 356.5h0M630.8 356.4h0M627.0 356.2h0M716.6 356.2h0M663.4 355.9h0M701.5 355.8h0M677.5 355.7h0M645.9 355.7h0M651.6 355.6h0M639.9 355.6h0M713.4 355.5h0M716.6 355.4h0M627.0 355.4h0M658.3 355.2h0M716.6 355.2h0M627.0 355.1h0M689.5 354.9h0M716.6 354.7h0M627.0 354.7h0M706.4 354.6h0M635.1 354.6h0M682.4 354.2h0M694.2 354.1h0M627.0 354.0h0M716.6 354.0h0M670.8 353.8h0M627.0 353.7h0M716.6 353.7h0M716.6 353.2h0M627.0 353.1h0M716.6 352.7h0M627.0 352.7h0M666.5 352.5h0M698.4 352.4h0M654.9 352.1h0M643.0 352.1h0M648.8 352.0h0M710.3 352.0h0M674.9 351.9h0M631.3 351.9h0M627.0 351.9h0M661.5 351.8h0M716.6 351.8h0M686.2 351.7h0M716.6 351.7h0M627.0 351.7h0M703.0 351.5h0M638.4 351.2h0M716.6 351.0h0M627.0 351.0h0M679.4 350.8h0M691.2 350.7h0M716.6 350.7h0M627.0 350.6h0M714.5 350.4h0M627.0 350.2h0M716.6 350.1h0M716.6 349.7h0M627.0 349.6h0M670.1 349.4h0M716.6 349.1h0M706.8 349.0h0M695.4 348.9h0M627.0 348.9h0M658.1 348.7h0M652.1 348.5h0M645.8 348.5h0M634.6 348.5h0M665.3 348.2h0M683.2 348.2h0M628.7 348.1h0M700.0 348.0h0M627.0 347.8h0M716.6 347.7h0M641.3 347.7h0M627.0 347.6h0M675.9 347.5h0M687.9 347.4h0M711.1 347.2h0M716.6 347.2h0M627.0 347.1h0M627.0 346.7h0M716.6 346.7h0M716.6 346.2h0M627.0 346.1h0M661.6 345.4h0M692.1 345.4h0M703.8 345.3h0M671.8 345.2h0M679.8 345.1h0M655.4 345.0h0M649.5 344.8h0M637.8 344.8h0M696.7 344.6h0M632.5 344.5h0M627.0 344.4h0M667.4 344.1h0M644.8 344.1h0M716.6 344.0h0M684.9 344.0h0M627.0 344.0h0M708.0 343.7h0M627.0 343.7h0M716.6 343.6h0M713.1 343.1h0M716.6 343.0h0M627.0 342.9h0M675.7 342.8h0M716.6 342.7h0M627.0 342.5h0M627.0 342.2h0M700.5 342.2h0M716.6 342.1h0M689.1 342.0h0M658.8 341.8h0M641.0 341.5h0M652.7 341.5h0M663.8 341.4h0M627.0 341.4h0M716.6 341.3h0M629.4 341.2h0M693.7 341.0h0M681.5 340.9h0M635.4 340.9h0M670.5 340.9h0M716.6 340.8h0M627.0 340.8h0M627.0 340.7h0M716.6 340.7h0M647.8 340.6h0M704.7 340.5h0M716.6 340.2h0M627.0 340.2h0M710.1 339.7h0M627.0 339.7h0M716.6 339.5h0M716.6 339.1h0M685.6 338.9h0M627.0 338.9h0M677.5 338.7h0M627.0 338.7h0M716.6 338.7h0M697.6 338.6h0M666.9 338.0h0M656.4 337.9h0M643.9 337.9h0M627.0 337.9h0M661.1 337.7h0M690.1 337.5h0M638.8 337.5h0M632.4 337.4h0M714.1 337.4h0M627.0 337.3h0M650.9 337.3h0M673.2 337.2h0M716.6 337.2h0M701.9 336.9h0M627.0 336.7h0M716.6 336.5h0M706.9 336.5h0M681.6 336.4h0M716.6 336.2h0M627.0 336.1h0M627.0 335.7h0M716.6 335.6h0M694.1 335.5h0M627.0 335.2h0M716.6 335.1h0M647.2 334.7h0M627.0 334.7h0M716.6 334.7h0M686.7 334.5h0M669.7 334.4h0M664.2 334.3h0M676.7 334.1h0M654.0 334.0h0M658.8 333.8h0M698.5 333.7h0M642.4 333.7h0M636.8 333.4h0M710.3 333.4h0M630.3 333.4h0M715.6 333.1h0M716.6 333.1h0M627.0 333.0h0M704.0 332.9h0M716.6 332.6h0M627.0 332.6h0M690.7 332.4h0M627.0 332.2h0M682.6 332.0h0M716.6 331.9h0M627.0 331.7h0M716.6 331.7h0M650.4 331.3h0M673.0 331.3h0M627.0 331.1h0M716.6 331.1h0M667.0 330.7h0M695.0 330.6h0M627.0 330.6h0M661.9 330.4h0M645.8 330.2h0M633.6 330.1h0M627.0 330.1h0M716.6 330.1h0M678.4 329.9h0M686.7 329.9h0M656.5 329.9h0M639.9 329.8h0M700.6 329.7h0M707.2 329.6h0M712.7 329.6h0M716.6 329.5h0M627.0 329.3h0M716.6 329.2h0M627.0 329.1h0M716.6 328.7h0M627.0 328.7h0M629.5 328.2h0M627.0 328.0h0M690.9 327.8h0M670.4 327.5h0M682.2 327.3h0M652.8 327.1h0M674.9 326.9h0M664.9 326.7h0M659.6 326.4h0M648.1 326.2h0M695.2 326.0h0M643.4 325.8h0M702.5 325.6h0M686.4 325.3h0M638.8 325.1h0M678.7 324.3h0M707.0 324.2h0M668.3 323.5h0M656.2 323.3h0M672.9 322.2h0M664.0 321.7h0M681.4 320.6h0M676.9 320.2h0M659.7 319.9h0M686.0 319.7h0M653.9 319.4h0M690.7 319.4h0M649.2 319.2h0M669.6 318.9h0M695.4 318.7h0M644.5 318.4h0M700.1 318.2h0M639.8 318.0h0M704.8 317.7h0M635.1 317.5h0M665.3 317.2h0M709.4 317.0h0M673.8 316.8h0M678.4 315.7h0M670.1 313.9h0M674.6 312.3h0M666.2 311.4h0M678.9 310.3h0M661.6 310.2h0M671.8 308.7h0M683.2 308.5h0M675.3 305.8h0M671.8 302.1h0M668.2 299.2h0M674.7 298.6h0M671.8 290.4h0" stroke="#937860" stroke-width="4.4" stroke-linecap="round" fill="none"/>
</g>
</svg></body></html>
